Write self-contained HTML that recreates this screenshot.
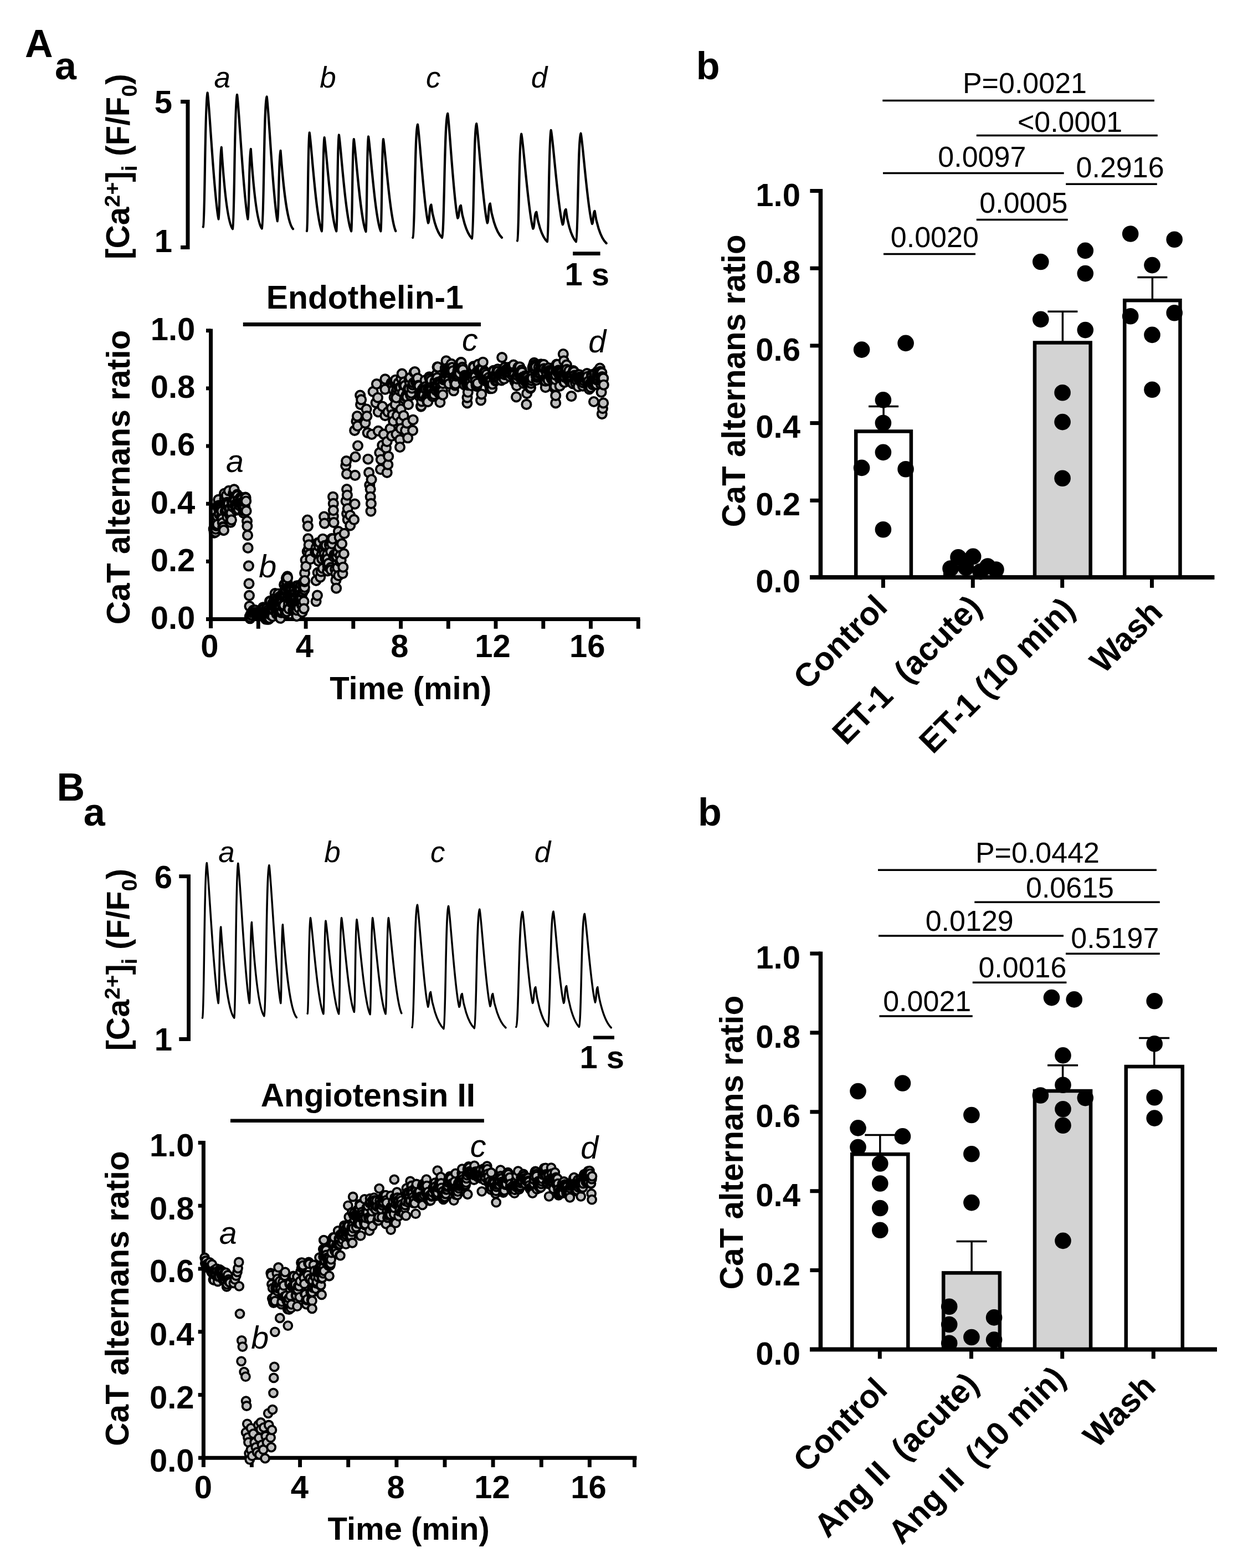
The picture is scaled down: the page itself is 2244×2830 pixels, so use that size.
<!DOCTYPE html>
<html lang="en"><head><meta charset="utf-8"><title>Figure</title>
<style>
html,body{margin:0;padding:0;background:#fff}
body{width:2244px;height:2830px;overflow:hidden}
svg{display:block}
text{white-space:pre}
</style></head>
<body>
<svg width="2244" height="2830" viewBox="0 0 2244 2830">
<rect width="2244" height="2830" fill="#fff"/>
<g fill="none" stroke="#000">
<path d="M366.8 409.5C370.1 404.7 369.9 174.8 374.6 167.5C377.6 178.9 386.6 361.3 394.6 395.5C396.8 392.9 396.7 269.7 399.8 265.8C401.8 295.3 407.9 398.5 420 413.2C423.4 408.4 423.2 178.2 428 170.9C430.9 182.1 439.7 361.8 447.5 395.5C449.7 393 449.6 272.7 452.8 268.9C454.8 297.6 460.8 398.2 472.8 412.5C476.5 407.8 476.3 181.6 481.6 174.5C484.5 185.7 493.2 365.5 500.9 399.2C503.3 396.7 503.1 275.7 506.5 271.9C508.8 300.2 515.5 399.1 529 413.2" stroke-width="4.2" stroke-linejoin="round" stroke-linecap="round"/>
<path d="M554 417C556 413.5 555.9 244.7 558.7 239.4C561.6 251.8 570.2 392.4 580.9 417.3C582.9 413.9 582.8 253.3 585.6 248.2C588.4 260 596.9 393.7 607.3 417.3C609.2 413.9 609.1 248.7 611.9 243.5C614.8 255.7 623.5 393 634.2 417.3C636.1 414 636 256.1 638.8 251.1C641.6 262.8 650.1 394.7 660.5 418C662.4 414.6 662.3 251.6 665.1 246.5C668 258.4 676.7 393.4 687.4 417.3C689.3 414 689.2 256.1 692 251.1C694.9 262.7 703.6 393.8 714.3 417" stroke-width="4.2" stroke-linejoin="round" stroke-linecap="round"/>
<path d="M745.3 428.9C749 424.8 748.8 230.8 754 224.7C756.9 233.6 765.4 375.9 773 402.5C775.3 401.9 775.2 370.4 778.4 369.4C780.4 387.3 787.2 418.2 798 428.9C802.3 424.4 802.1 211.6 808.2 204.9C810.9 214.3 819.1 365.5 826.3 393.8C828.7 393.4 828.6 371.6 832 370.9C834 388.8 841 419.7 852 430.4C855.4 426.3 855.3 229.4 860.2 223.2C863.1 232.2 872 375.6 879.8 402.5C881.9 401.8 881.8 368.4 884.8 367.4C886.9 385.9 894.3 417.9 906 428.9" stroke-width="4.2" stroke-linejoin="round" stroke-linecap="round"/>
<path d="M934 434.5C937 430.7 936.9 247.5 941.2 241.7C944.4 250.2 953.9 387.2 962.3 412.8C964.9 412.2 964.7 383.5 968.4 382.6C970.4 398.7 977.2 426.6 988 436.2C990.8 432.2 990.7 240.9 994.7 234.9C997.9 243.4 1007.4 379.9 1015.8 405.5C1018.2 405 1018.1 378.7 1021.6 377.9C1023.4 395.4 1029.9 425.7 1040 436.2C1043.6 432.3 1043.4 246.7 1048.5 240.8C1051.6 249 1060.8 379.6 1069 404.1C1071 403.7 1070.9 381.6 1073.7 380.9C1075.8 398.4 1083.2 428.6 1094.7 439.1" stroke-width="4.2" stroke-linejoin="round" stroke-linecap="round"/>
<path d="M365.5 1837.2C368.8 1831.6 368.6 1566 373.3 1557.6C376.4 1570.2 385.8 1772.6 394.2 1810.6C396.1 1807.8 396 1677.1 398.7 1673C401.1 1705.8 408.3 1820.8 422.8 1837.2C425.7 1831.6 425.6 1566.7 429.8 1558.4C432.9 1571 442.1 1772.7 450.3 1810.6C452 1807.7 451.9 1669 454.4 1664.6C456.6 1698.4 463.4 1816.9 476.9 1833.8C480.7 1828.3 480.5 1569.7 485.9 1561.6C489 1574 498.4 1773.2 506.8 1810.6C508.3 1807.7 508.2 1673.1 510.4 1668.9C512.9 1702.4 520.4 1819.6 535.4 1836.4" stroke-width="3.5" stroke-linejoin="round" stroke-linecap="round"/>
<path d="M555.2 1829.3C557.4 1825.8 557.3 1661.9 560.5 1656.7C563.5 1668.8 572.7 1805.7 583.9 1830C585.6 1826.6 585.5 1667 588 1662C591.1 1673.7 600.3 1806.5 611.6 1830C613.7 1826.5 613.6 1661.9 616.6 1656.7C619.6 1668.6 628.5 1802.7 639.4 1826.5C641.4 1823.1 641.3 1664.7 644.1 1659.7C647.2 1671.7 656.6 1806.8 668.1 1830.8C670 1827.3 669.9 1661.9 672.7 1656.7C675.7 1668.8 684.9 1805.7 696.1 1830C698.3 1826.5 698.2 1661.9 701.4 1656.7C704.4 1668.7 713.6 1804.7 724.8 1828.8" stroke-width="3.5" stroke-linejoin="round" stroke-linecap="round"/>
<path d="M744 1854.2C748 1849.8 747.8 1639.8 753.5 1633.2C756.4 1642.4 765.1 1789.7 772.8 1817.4C774.7 1816.8 774.6 1791.2 777.4 1790.4C779.8 1810.3 788 1844.8 800.9 1856.8C804.6 1852.3 804.4 1641.9 809.6 1635.3C812.5 1644.4 821.2 1790.1 829 1817.4C831.2 1816.9 831.1 1794.3 834.2 1793.6C836.4 1812.2 844.1 1844.6 856.3 1855.8C860.3 1851.5 860.1 1647.6 865.8 1641.2C868.7 1649.9 877.3 1790 885 1816.3C886.9 1815.8 886.8 1794.3 889.6 1793.6C891.9 1811.9 900.1 1843.8 913 1854.8" stroke-width="3.5" stroke-linejoin="round" stroke-linecap="round"/>
<path d="M931.8 1853.5C936.6 1849.3 936.4 1651.8 943.3 1645.6C946 1653.8 954.3 1785.7 961.6 1810.4C963.8 1809.8 963.7 1782.4 966.8 1781.6C969 1802.8 976.9 1839.7 989.3 1852.5C993.4 1848.3 993.2 1651.3 999 1645.1C1001.8 1653.3 1010.2 1785.6 1017.7 1810.4C1019.8 1809.8 1019.7 1780.5 1022.6 1779.6C1024.9 1801.7 1032.9 1840.2 1045.4 1853.5C1049.6 1849.4 1049.4 1655.4 1055.3 1649.3C1058.2 1657.3 1066.9 1785.3 1074.6 1809.3C1076.4 1808.7 1076.3 1782.4 1078.8 1781.6C1081.2 1803.5 1089.8 1841.6 1103.3 1854.8" stroke-width="3.5" stroke-linejoin="round" stroke-linecap="round"/>
</g>
<g fill="none" stroke="#000" stroke-linecap="butt" stroke-linejoin="miter">
<path d="M326.1 183.5H339V446.4H326.1" stroke-width="7"/>
<path d="M323.3 1581.6H340.6V1875.5H323.3" stroke-width="6.8"/>
<path d="M1034.2 457.7L1083.6 457.7" stroke-width="6.7"/>
<path d="M438.8 585.4L868 585.4" stroke-width="7"/>
<path d="M1071 1872.6L1109 1872.6" stroke-width="6.3"/>
<path d="M416 2022.8L873.9 2022.8" stroke-width="6.5"/>
<path d="M380.6 593.4V1134" stroke-width="7"/>
<path d="M372 1117.5H1155.6" stroke-width="7"/>
<path d="M372 596.7H380.6" stroke-width="6.9"/>
<path d="M372 700.9H380.6" stroke-width="6.9"/>
<path d="M372 805H380.6" stroke-width="6.9"/>
<path d="M372 909.2H380.6" stroke-width="6.9"/>
<path d="M372 1013.3H380.6" stroke-width="6.9"/>
<path d="M466.3 1117.5V1134.8" stroke-width="6.9"/>
<path d="M552.1 1117.5V1134.8" stroke-width="6.9"/>
<path d="M637.8 1117.5V1134.8" stroke-width="6.9"/>
<path d="M723.6 1117.5V1134.8" stroke-width="6.9"/>
<path d="M809.3 1117.5V1134.8" stroke-width="6.9"/>
<path d="M895 1117.5V1134.8" stroke-width="6.9"/>
<path d="M980.8 1117.5V1134.8" stroke-width="6.9"/>
<path d="M1066.5 1117.5V1134.8" stroke-width="6.9"/>
<path d="M1152.3 1117.5V1134.8" stroke-width="6.9"/>
<path d="M367.4 2059.1V2648" stroke-width="7"/>
<path d="M358 2631.3H1149.5" stroke-width="7"/>
<path d="M357.7 2062.4H367.4" stroke-width="6.9"/>
<path d="M357.7 2176.2H367.4" stroke-width="6.9"/>
<path d="M357.7 2290H367.4" stroke-width="6.9"/>
<path d="M357.7 2403.7H367.4" stroke-width="6.9"/>
<path d="M357.7 2517.5H367.4" stroke-width="6.9"/>
<path d="M454.4 2631.3V2648.1" stroke-width="6.9"/>
<path d="M541.6 2631.3V2648.1" stroke-width="6.9"/>
<path d="M628.7 2631.3V2648.1" stroke-width="6.9"/>
<path d="M715.9 2631.3V2648.1" stroke-width="6.9"/>
<path d="M803 2631.3V2648.1" stroke-width="6.9"/>
<path d="M890.1 2631.3V2648.1" stroke-width="6.9"/>
<path d="M977.3 2631.3V2648.1" stroke-width="6.9"/>
<path d="M1064.4 2631.3V2648.1" stroke-width="6.9"/>
<path d="M1145.5 2631.3V2648.1" stroke-width="6.9"/>
<path d="M1481.4 341V1045.6" stroke-width="7.5"/>
<path d="M1462 1041.9H2192.3" stroke-width="7.5"/>
<path d="M1462.4 344.5H1481.4" stroke-width="7"/>
<path d="M1462.4 484.2H1481.4" stroke-width="7"/>
<path d="M1462.4 623.9H1481.4" stroke-width="7"/>
<path d="M1462.4 763.6H1481.4" stroke-width="7"/>
<path d="M1462.4 903.3H1481.4" stroke-width="7"/>
<path d="M1594.4 1041.9V1060.9" stroke-width="7"/>
<path d="M1756.3 1041.9V1060.9" stroke-width="7"/>
<path d="M1917.7 1041.9V1060.9" stroke-width="7"/>
<path d="M2079.5 1041.9V1060.9" stroke-width="7"/>
<path d="M1481.4 1717.5V2439" stroke-width="7.5"/>
<path d="M1462 2435.4H2197" stroke-width="7.5"/>
<path d="M1462.4 1721H1481.4" stroke-width="7"/>
<path d="M1462.4 1863.9H1481.4" stroke-width="7"/>
<path d="M1462.4 2006.8H1481.4" stroke-width="7"/>
<path d="M1462.4 2149.7H1481.4" stroke-width="7"/>
<path d="M1462.4 2292.6H1481.4" stroke-width="7"/>
<path d="M1588.3 2435.4V2452.4" stroke-width="7"/>
<path d="M1753.5 2435.4V2452.4" stroke-width="7"/>
<path d="M1917.7 2435.4V2452.4" stroke-width="7"/>
<path d="M2082.3 2435.4V2452.4" stroke-width="7"/>
</g>
<rect x="1545.2" y="778.5" width="99.7" height="263.5" fill="#fff" stroke="#000" stroke-width="6.5"/>
<path d="M1595.1 778.5V733.6M1568.1 733.6H1622.1" fill="none" stroke="#000" stroke-width="3.5"/>
<rect x="1706.2" y="1027.2" width="100.5" height="14.7" fill="#d3d3d3" stroke="#000" stroke-width="6.5"/>
<rect x="1868" y="618.5" width="100.7" height="423.5" fill="#d3d3d3" stroke="#000" stroke-width="6.5"/>
<path d="M1918.4 618.5V562.3M1891.4 562.3H1945.4" fill="none" stroke="#000" stroke-width="3.5"/>
<rect x="2030.3" y="542.2" width="100.2" height="499.7" fill="#fff" stroke="#000" stroke-width="6.5"/>
<path d="M2080.4 542.2V500.6M2053.4 500.6H2107.4" fill="none" stroke="#000" stroke-width="3.5"/>
<path d="M1462 1041.9H2192.3" fill="none" stroke="#000" stroke-width="7.5"/>
<g fill="#000">
<circle cx="1555.6" cy="631.1" r="14.8"/><circle cx="1635.1" cy="619.4" r="14.8"/><circle cx="1594.4" cy="721.9" r="14.8"/><circle cx="1594.4" cy="763.5" r="14.8"/><circle cx="1594.4" cy="816.4" r="14.8"/><circle cx="1555.6" cy="844.4" r="14.8"/><circle cx="1635.1" cy="846.8" r="14.8"/><circle cx="1594.4" cy="955.8" r="14.8"/><circle cx="1730" cy="1005.8" r="14.8"/><circle cx="1756.7" cy="1004.4" r="14.8"/><circle cx="1716" cy="1026" r="14.8"/><circle cx="1744" cy="1024.6" r="14.8"/><circle cx="1783" cy="1022" r="14.8"/><circle cx="1798" cy="1028" r="14.8"/><circle cx="1770" cy="1031.6" r="14.8"/><circle cx="1878.8" cy="472.5" r="14.8"/><circle cx="1959.3" cy="452.4" r="14.8"/><circle cx="1959.3" cy="493.6" r="14.8"/><circle cx="1878.8" cy="576.4" r="14.8"/><circle cx="1959.3" cy="595.6" r="14.8"/><circle cx="1918.1" cy="708.8" r="14.8"/><circle cx="1918.1" cy="761.6" r="14.8"/><circle cx="1918.1" cy="863.2" r="14.8"/><circle cx="2040.7" cy="422" r="14.8"/><circle cx="2120.2" cy="432.3" r="14.8"/><circle cx="2080" cy="478.6" r="14.8"/><circle cx="2040.7" cy="570.8" r="14.8"/><circle cx="2120.2" cy="564.7" r="14.8"/><circle cx="2080" cy="604.4" r="14.8"/><circle cx="2080" cy="703.2" r="14.8"/>
</g>
<g fill="none" stroke="#000" stroke-width="3.5">
<path d="M1593.3 181.4H2083.9"/>
<path d="M1762.8 244.6H2089.8"/>
<path d="M1594 312.6H1920.7"/>
<path d="M1924.2 332.3H2088.8"/>
<path d="M1762.8 396.5H1927.7"/>
<path d="M1595 458.6H1761"/>
</g>
<rect x="1538.2" y="2083.2" width="101.1" height="352.2" fill="#fff" stroke="#000" stroke-width="6.5"/>
<path d="M1588.8 2083.2V2048.5M1561.3 2048.5H1616.3" fill="none" stroke="#000" stroke-width="3.5"/>
<rect x="1703.2" y="2297.4" width="101.7" height="138" fill="#d3d3d3" stroke="#000" stroke-width="6.5"/>
<path d="M1754.1 2297.4V2240.4M1726.6 2240.4H1781.6" fill="none" stroke="#000" stroke-width="3.5"/>
<rect x="1868" y="1969" width="101.1" height="466.5" fill="#d3d3d3" stroke="#000" stroke-width="6.5"/>
<path d="M1918.6 1969V1922.7M1891.1 1922.7H1946.1" fill="none" stroke="#000" stroke-width="3.5"/>
<rect x="2032.8" y="1925" width="102" height="510.4" fill="#fff" stroke="#000" stroke-width="6.5"/>
<path d="M2083.8 1925V1873.6M2056.2 1873.6H2111.2" fill="none" stroke="#000" stroke-width="3.5"/>
<path d="M1462 2435.4H2197" fill="none" stroke="#000" stroke-width="7.5"/>
<g fill="#000">
<circle cx="1549" cy="1969.5" r="14.8"/><circle cx="1629.5" cy="1955" r="14.8"/><circle cx="1549" cy="2035.9" r="14.8"/><circle cx="1629.5" cy="2050.9" r="14.8"/><circle cx="1549" cy="2070.5" r="14.8"/><circle cx="1588.8" cy="2100" r="14.8"/><circle cx="1588.8" cy="2136" r="14.8"/><circle cx="1588.8" cy="2180.5" r="14.8"/><circle cx="1588.8" cy="2220.2" r="14.8"/><circle cx="1753.9" cy="2012.5" r="14.8"/><circle cx="1753.9" cy="2082.7" r="14.8"/><circle cx="1753.9" cy="2170.6" r="14.8"/><circle cx="1713.7" cy="2358.2" r="14.8"/><circle cx="1713.7" cy="2390.5" r="14.8"/><circle cx="1794.6" cy="2377.9" r="14.8"/><circle cx="1753.9" cy="2413.5" r="14.8"/><circle cx="1713.7" cy="2424.2" r="14.8"/><circle cx="1794.6" cy="2418.1" r="14.8"/><circle cx="1898.5" cy="1800.6" r="14.8"/><circle cx="1939.2" cy="1803.9" r="14.8"/><circle cx="1919" cy="1904.9" r="14.8"/><circle cx="1919" cy="1958.2" r="14.8"/><circle cx="1878.4" cy="1977" r="14.8"/><circle cx="1959.3" cy="1981.6" r="14.8"/><circle cx="1919" cy="2001.8" r="14.8"/><circle cx="1919" cy="2031.2" r="14.8"/><circle cx="1919" cy="2239.4" r="14.8"/><circle cx="2084.2" cy="1806.7" r="14.8"/><circle cx="2084.2" cy="1883.9" r="14.8"/><circle cx="2084.2" cy="1980.7" r="14.8"/><circle cx="2084.2" cy="2018.1" r="14.8"/>
</g>
<g fill="none" stroke="#000" stroke-width="3.5">
<path d="M1585 1570.3H2088"/>
<path d="M1759.3 1628.2H2093.8"/>
<path d="M1586 1689H1920"/>
<path d="M1924 1721.2H2093.8"/>
<path d="M1755.8 1773.2H1925.4"/>
<path d="M1587.4 1834H1755.8"/>
</g>
<g fill="#c0c0c0" stroke="#000" stroke-width="3.9">
<circle cx="385.7" cy="954.6" r="8.1"/><circle cx="386.3" cy="957" r="8.1"/><circle cx="386.8" cy="961.6" r="8.1"/><circle cx="387.4" cy="952.8" r="8.1"/><circle cx="387.9" cy="953.2" r="8.1"/><circle cx="388.4" cy="951.6" r="8.1"/><circle cx="389" cy="960.3" r="8.1"/><circle cx="389.5" cy="954.9" r="8.1"/><circle cx="390" cy="948.6" r="8.1"/><circle cx="390.6" cy="949" r="8.1"/><circle cx="391.1" cy="946.5" r="8.1"/><circle cx="391.6" cy="939.2" r="8.1"/><circle cx="392.2" cy="932" r="8.1"/><circle cx="392.7" cy="946.5" r="8.1"/><circle cx="393.2" cy="915.2" r="8.1"/><circle cx="393.8" cy="911.6" r="8.1"/><circle cx="394.3" cy="901.8" r="8.1"/><circle cx="394.9" cy="912.4" r="8.1"/><circle cx="395.4" cy="921.7" r="8.1"/><circle cx="395.9" cy="928.3" r="8.1"/><circle cx="396.5" cy="915.7" r="8.1"/><circle cx="397" cy="918.2" r="8.1"/><circle cx="397.5" cy="914.6" r="8.1"/><circle cx="398.1" cy="915.8" r="8.1"/><circle cx="398.6" cy="919.3" r="8.1"/><circle cx="399.1" cy="919.2" r="8.1"/><circle cx="399.7" cy="934" r="8.1"/><circle cx="400.2" cy="930.2" r="8.1"/><circle cx="400.7" cy="922.3" r="8.1"/><circle cx="401.3" cy="936.2" r="8.1"/><circle cx="401.8" cy="943.6" r="8.1"/><circle cx="402.4" cy="950.8" r="8.1"/><circle cx="402.9" cy="952" r="8.1"/><circle cx="403.4" cy="957.2" r="8.1"/><circle cx="404" cy="957" r="8.1"/><circle cx="404.5" cy="908" r="8.1"/><circle cx="405" cy="890.9" r="8.1"/><circle cx="405.6" cy="900.1" r="8.1"/><circle cx="406.1" cy="909.1" r="8.1"/><circle cx="406.6" cy="923" r="8.1"/><circle cx="407.2" cy="922" r="8.1"/><circle cx="407.7" cy="912.4" r="8.1"/><circle cx="408.3" cy="896.5" r="8.1"/><circle cx="408.8" cy="894.2" r="8.1"/><circle cx="409.3" cy="920" r="8.1"/><circle cx="409.9" cy="906.7" r="8.1"/><circle cx="410.4" cy="933.2" r="8.1"/><circle cx="410.9" cy="910.2" r="8.1"/><circle cx="411.5" cy="912.4" r="8.1"/><circle cx="412" cy="914.5" r="8.1"/><circle cx="412.5" cy="909" r="8.1"/><circle cx="413.1" cy="885.8" r="8.1"/><circle cx="413.6" cy="927" r="8.1"/><circle cx="414.1" cy="918.3" r="8.1"/><circle cx="414.7" cy="921.8" r="8.1"/><circle cx="415.2" cy="917.6" r="8.1"/><circle cx="415.8" cy="931.6" r="8.1"/><circle cx="416.3" cy="942.8" r="8.1"/><circle cx="416.8" cy="936.5" r="8.1"/><circle cx="417.4" cy="926" r="8.1"/><circle cx="417.9" cy="938.4" r="8.1"/><circle cx="418.4" cy="905.2" r="8.1"/><circle cx="419" cy="906.9" r="8.1"/><circle cx="419.5" cy="914.5" r="8.1"/><circle cx="420" cy="914.1" r="8.1"/><circle cx="420.6" cy="908.6" r="8.1"/><circle cx="421.1" cy="891" r="8.1"/><circle cx="421.6" cy="889.5" r="8.1"/><circle cx="422.2" cy="889.5" r="8.1"/><circle cx="422.7" cy="883.4" r="8.1"/><circle cx="423.3" cy="897.4" r="8.1"/><circle cx="423.8" cy="899.1" r="8.1"/><circle cx="424.3" cy="903.1" r="8.1"/><circle cx="424.9" cy="910.5" r="8.1"/><circle cx="425.4" cy="913.6" r="8.1"/><circle cx="425.9" cy="916.6" r="8.1"/><circle cx="426.5" cy="920.6" r="8.1"/><circle cx="427" cy="915" r="8.1"/><circle cx="427.5" cy="916.7" r="8.1"/><circle cx="428.1" cy="892.6" r="8.1"/><circle cx="428.6" cy="894.9" r="8.1"/><circle cx="429.2" cy="905.4" r="8.1"/><circle cx="429.7" cy="902.5" r="8.1"/><circle cx="430.2" cy="907.8" r="8.1"/><circle cx="430.8" cy="919.6" r="8.1"/><circle cx="431.3" cy="908" r="8.1"/><circle cx="431.8" cy="910.2" r="8.1"/><circle cx="432.4" cy="912.3" r="8.1"/><circle cx="432.9" cy="906.8" r="8.1"/><circle cx="433.4" cy="907.7" r="8.1"/><circle cx="434" cy="908.6" r="8.1"/><circle cx="434.5" cy="897.5" r="8.1"/><circle cx="435" cy="903" r="8.1"/><circle cx="435.6" cy="899.8" r="8.1"/><circle cx="436.1" cy="899.7" r="8.1"/><circle cx="436.7" cy="900.8" r="8.1"/><circle cx="437.2" cy="906.8" r="8.1"/><circle cx="437.7" cy="909.4" r="8.1"/><circle cx="438.3" cy="913.7" r="8.1"/><circle cx="438.8" cy="915.6" r="8.1"/><circle cx="439.3" cy="925.6" r="8.1"/><circle cx="439.9" cy="917" r="8.1"/><circle cx="440.4" cy="921.8" r="8.1"/><circle cx="440.9" cy="917.5" r="8.1"/><circle cx="441.5" cy="912.8" r="8.1"/><circle cx="442" cy="914" r="8.1"/><circle cx="442.5" cy="906.1" r="8.1"/><circle cx="443.1" cy="897.5" r="8.1"/><circle cx="443.6" cy="898.7" r="8.1"/><circle cx="444.2" cy="904.5" r="8.1"/><circle cx="444.6" cy="922.2" r="8.1"/><circle cx="446" cy="940.5" r="8.1"/><circle cx="446.4" cy="949.6" r="8.1"/><circle cx="447" cy="966.2" r="8.1"/><circle cx="447.6" cy="988.9" r="8.1"/><circle cx="448.9" cy="1021.4" r="8.1"/><circle cx="449.5" cy="1053.3" r="8.1"/><circle cx="450" cy="1074.8" r="8.1"/><circle cx="450.5" cy="1094.1" r="8.1"/><circle cx="450.9" cy="1112.6" r="8.1"/><circle cx="451.4" cy="1116.3" r="8.1"/><circle cx="451.9" cy="1114.3" r="8.1"/><circle cx="452.5" cy="1109.8" r="8.1"/><circle cx="453" cy="1108" r="8.1"/><circle cx="453.5" cy="1109.7" r="8.1"/><circle cx="454" cy="1110.4" r="8.1"/><circle cx="454.5" cy="1109.9" r="8.1"/><circle cx="455" cy="1105.5" r="8.1"/><circle cx="455.5" cy="1104.8" r="8.1"/><circle cx="456.1" cy="1105" r="8.1"/><circle cx="456.6" cy="1102.7" r="8.1"/><circle cx="457.1" cy="1103.4" r="8.1"/><circle cx="457.6" cy="1101.2" r="8.1"/><circle cx="458.1" cy="1103.2" r="8.1"/><circle cx="458.6" cy="1104.6" r="8.1"/><circle cx="459.1" cy="1103.8" r="8.1"/><circle cx="459.7" cy="1101.7" r="8.1"/><circle cx="460.2" cy="1101.2" r="8.1"/><circle cx="460.7" cy="1101.4" r="8.1"/><circle cx="461.2" cy="1105.5" r="8.1"/><circle cx="461.7" cy="1107.1" r="8.1"/><circle cx="462.2" cy="1108.4" r="8.1"/><circle cx="462.7" cy="1109.4" r="8.1"/><circle cx="463.3" cy="1108.3" r="8.1"/><circle cx="463.8" cy="1109" r="8.1"/><circle cx="464.3" cy="1107.5" r="8.1"/><circle cx="464.8" cy="1107.5" r="8.1"/><circle cx="465.3" cy="1108.2" r="8.1"/><circle cx="465.8" cy="1108" r="8.1"/><circle cx="466.3" cy="1107.3" r="8.1"/><circle cx="466.9" cy="1105.8" r="8.1"/><circle cx="467.4" cy="1107" r="8.1"/><circle cx="467.9" cy="1107.6" r="8.1"/><circle cx="468.4" cy="1110.3" r="8.1"/><circle cx="468.9" cy="1107" r="8.1"/><circle cx="469.4" cy="1104.4" r="8.1"/><circle cx="469.9" cy="1105.2" r="8.1"/><circle cx="470.5" cy="1106.4" r="8.1"/><circle cx="471" cy="1109" r="8.1"/><circle cx="471.5" cy="1108.6" r="8.1"/><circle cx="472" cy="1108.2" r="8.1"/><circle cx="472.5" cy="1104" r="8.1"/><circle cx="473" cy="1103.9" r="8.1"/><circle cx="473.5" cy="1105.9" r="8.1"/><circle cx="474.1" cy="1110.9" r="8.1"/><circle cx="474.6" cy="1107.9" r="8.1"/><circle cx="474.9" cy="1096.2" r="8.1"/><circle cx="475.1" cy="1107.5" r="8.1"/><circle cx="475.4" cy="1103.6" r="8.1"/><circle cx="475.6" cy="1110.8" r="8.1"/><circle cx="475.9" cy="1105.2" r="8.1"/><circle cx="476.1" cy="1110.2" r="8.1"/><circle cx="476.3" cy="1098.9" r="8.1"/><circle cx="476.6" cy="1113.2" r="8.1"/><circle cx="476.8" cy="1103.5" r="8.1"/><circle cx="477.3" cy="1105.3" r="8.1"/><circle cx="477.7" cy="1112.3" r="8.1"/><circle cx="478.2" cy="1106.3" r="8.1"/><circle cx="478.7" cy="1107.4" r="8.1"/><circle cx="479.2" cy="1110.1" r="8.1"/><circle cx="479.2" cy="1102.8" r="8.1"/><circle cx="479.6" cy="1117.5" r="8.1"/><circle cx="480.1" cy="1110.3" r="8.1"/><circle cx="480.5" cy="1104.1" r="8.1"/><circle cx="480.6" cy="1112.1" r="8.1"/><circle cx="481" cy="1106.7" r="8.1"/><circle cx="481.5" cy="1115.7" r="8.1"/><circle cx="481.8" cy="1097.7" r="8.1"/><circle cx="482" cy="1117.5" r="8.1"/><circle cx="482.5" cy="1117.2" r="8.1"/><circle cx="482.9" cy="1117.5" r="8.1"/><circle cx="483.1" cy="1115.5" r="8.1"/><circle cx="483.4" cy="1108.2" r="8.1"/><circle cx="483.9" cy="1107.7" r="8.1"/><circle cx="484.3" cy="1100.7" r="8.1"/><circle cx="484.3" cy="1107" r="8.1"/><circle cx="484.8" cy="1117.5" r="8.1"/><circle cx="485.3" cy="1117.5" r="8.1"/><circle cx="485.6" cy="1104" r="8.1"/><circle cx="485.8" cy="1105.4" r="8.1"/><circle cx="486.2" cy="1110.6" r="8.1"/><circle cx="486.7" cy="1115.8" r="8.1"/><circle cx="486.9" cy="1085.1" r="8.1"/><circle cx="487.2" cy="1104.2" r="8.1"/><circle cx="487.6" cy="1108.6" r="8.1"/><circle cx="488.1" cy="1109.3" r="8.1"/><circle cx="488.2" cy="1085" r="8.1"/><circle cx="488.6" cy="1104.4" r="8.1"/><circle cx="489.1" cy="1104.5" r="8.1"/><circle cx="489.5" cy="1107.7" r="8.1"/><circle cx="489.5" cy="1102" r="8.1"/><circle cx="490" cy="1101.7" r="8.1"/><circle cx="490.5" cy="1106.6" r="8.1"/><circle cx="490.8" cy="1099.6" r="8.1"/><circle cx="490.9" cy="1108.8" r="8.1"/><circle cx="491.4" cy="1103.8" r="8.1"/><circle cx="491.9" cy="1089.2" r="8.1"/><circle cx="492.1" cy="1112.5" r="8.1"/><circle cx="492.4" cy="1100.4" r="8.1"/><circle cx="492.8" cy="1098.3" r="8.1"/><circle cx="493.3" cy="1091.5" r="8.1"/><circle cx="493.3" cy="1100" r="8.1"/><circle cx="493.8" cy="1094.2" r="8.1"/><circle cx="494.2" cy="1086.8" r="8.1"/><circle cx="494.6" cy="1083.5" r="8.1"/><circle cx="494.7" cy="1087" r="8.1"/><circle cx="495.2" cy="1090" r="8.1"/><circle cx="495.7" cy="1095" r="8.1"/><circle cx="495.9" cy="1078.8" r="8.1"/><circle cx="496.1" cy="1085.5" r="8.1"/><circle cx="496.6" cy="1071" r="8.1"/><circle cx="497.1" cy="1079.5" r="8.1"/><circle cx="497.2" cy="1096.4" r="8.1"/><circle cx="497.5" cy="1089" r="8.1"/><circle cx="498" cy="1083.5" r="8.1"/><circle cx="498.5" cy="1103" r="8.1"/><circle cx="498.5" cy="1089.4" r="8.1"/><circle cx="499" cy="1092.2" r="8.1"/><circle cx="499.4" cy="1096.4" r="8.1"/><circle cx="499.8" cy="1108.5" r="8.1"/><circle cx="499.9" cy="1108.7" r="8.1"/><circle cx="500.4" cy="1098.6" r="8.1"/><circle cx="500.9" cy="1082.1" r="8.1"/><circle cx="501.1" cy="1087.7" r="8.1"/><circle cx="501.3" cy="1092.3" r="8.1"/><circle cx="501.8" cy="1100" r="8.1"/><circle cx="502.3" cy="1090.5" r="8.1"/><circle cx="502.4" cy="1071.7" r="8.1"/><circle cx="502.7" cy="1092.1" r="8.1"/><circle cx="503.2" cy="1087.3" r="8.1"/><circle cx="503.6" cy="1110.9" r="8.1"/><circle cx="503.7" cy="1103.7" r="8.1"/><circle cx="504.2" cy="1100.5" r="8.1"/><circle cx="504.6" cy="1090.4" r="8.1"/><circle cx="504.9" cy="1076.9" r="8.1"/><circle cx="505.1" cy="1101" r="8.1"/><circle cx="505.6" cy="1092" r="8.1"/><circle cx="506" cy="1093.4" r="8.1"/><circle cx="506.2" cy="1115.8" r="8.1"/><circle cx="506.5" cy="1087.5" r="8.1"/><circle cx="507" cy="1078.8" r="8.1"/><circle cx="507.5" cy="1080.8" r="8.1"/><circle cx="507.5" cy="1105.7" r="8.1"/><circle cx="507.9" cy="1075.4" r="8.1"/><circle cx="508.4" cy="1087.6" r="8.1"/><circle cx="508.8" cy="1103" r="8.1"/><circle cx="508.9" cy="1080.2" r="8.1"/><circle cx="509.3" cy="1088.4" r="8.1"/><circle cx="509.8" cy="1086.7" r="8.1"/><circle cx="510.1" cy="1075.4" r="8.1"/><circle cx="510.3" cy="1071.8" r="8.1"/><circle cx="510.8" cy="1095.5" r="8.1"/><circle cx="511.2" cy="1095.9" r="8.1"/><circle cx="511.4" cy="1095.6" r="8.1"/><circle cx="511.7" cy="1091.5" r="8.1"/><circle cx="512.2" cy="1070.2" r="8.1"/><circle cx="512.6" cy="1092.5" r="8.1"/><circle cx="512.6" cy="1067.8" r="8.1"/><circle cx="513.1" cy="1055.2" r="8.1"/><circle cx="513.6" cy="1055.4" r="8.1"/><circle cx="513.9" cy="1074.8" r="8.1"/><circle cx="514.1" cy="1066.8" r="8.1"/><circle cx="514.5" cy="1072" r="8.1"/><circle cx="515" cy="1072" r="8.1"/><circle cx="515.2" cy="1106.6" r="8.1"/><circle cx="515.5" cy="1074.2" r="8.1"/><circle cx="515.9" cy="1066.8" r="8.1"/><circle cx="516.4" cy="1059.6" r="8.1"/><circle cx="516.5" cy="1064.5" r="8.1"/><circle cx="516.9" cy="1043.4" r="8.1"/><circle cx="517.4" cy="1045.8" r="8.1"/><circle cx="517.8" cy="1104" r="8.1"/><circle cx="517.8" cy="1050.3" r="8.1"/><circle cx="518.3" cy="1049.3" r="8.1"/><circle cx="518.8" cy="1040.4" r="8.1"/><circle cx="519.1" cy="1077.8" r="8.1"/><circle cx="519.2" cy="1042.8" r="8.1"/><circle cx="519.7" cy="1062.6" r="8.1"/><circle cx="520.2" cy="1060.1" r="8.1"/><circle cx="520.4" cy="1095.4" r="8.1"/><circle cx="520.7" cy="1073.3" r="8.1"/><circle cx="521.1" cy="1088.9" r="8.1"/><circle cx="521.6" cy="1070.8" r="8.1"/><circle cx="521.6" cy="1099" r="8.1"/><circle cx="522.1" cy="1075.5" r="8.1"/><circle cx="522.5" cy="1071.6" r="8.1"/><circle cx="522.9" cy="1076.8" r="8.1"/><circle cx="523" cy="1060.9" r="8.1"/><circle cx="523.5" cy="1062.9" r="8.1"/><circle cx="524" cy="1063.8" r="8.1"/><circle cx="524.2" cy="1083.2" r="8.1"/><circle cx="524.4" cy="1082.2" r="8.1"/><circle cx="524.9" cy="1077.8" r="8.1"/><circle cx="525.4" cy="1073.5" r="8.1"/><circle cx="525.5" cy="1087.3" r="8.1"/><circle cx="525.8" cy="1066.2" r="8.1"/><circle cx="526.3" cy="1077.1" r="8.1"/><circle cx="526.8" cy="1084.9" r="8.1"/><circle cx="526.8" cy="1063.2" r="8.1"/><circle cx="527.3" cy="1079.9" r="8.1"/><circle cx="527.7" cy="1080.8" r="8.1"/><circle cx="528.1" cy="1077.3" r="8.1"/><circle cx="528.2" cy="1079.2" r="8.1"/><circle cx="528.7" cy="1089" r="8.1"/><circle cx="529.1" cy="1080.2" r="8.1"/><circle cx="529.4" cy="1101.8" r="8.1"/><circle cx="529.6" cy="1101.6" r="8.1"/><circle cx="530.1" cy="1075.2" r="8.1"/><circle cx="530.6" cy="1062.3" r="8.1"/><circle cx="530.6" cy="1098.9" r="8.1"/><circle cx="531" cy="1065.8" r="8.1"/><circle cx="531.5" cy="1073.3" r="8.1"/><circle cx="531.9" cy="1071" r="8.1"/><circle cx="532" cy="1088.2" r="8.1"/><circle cx="532.4" cy="1081.3" r="8.1"/><circle cx="532.9" cy="1071.3" r="8.1"/><circle cx="533.2" cy="1070.7" r="8.1"/><circle cx="533.4" cy="1077.8" r="8.1"/><circle cx="533.9" cy="1097.6" r="8.1"/><circle cx="534.3" cy="1102.6" r="8.1"/><circle cx="534.5" cy="1077.9" r="8.1"/><circle cx="534.8" cy="1089.7" r="8.1"/><circle cx="535.3" cy="1111.9" r="8.1"/><circle cx="535.7" cy="1112" r="8.1"/><circle cx="535.8" cy="1057.2" r="8.1"/><circle cx="536.2" cy="1101.3" r="8.1"/><circle cx="536.7" cy="1091.4" r="8.1"/><circle cx="537.1" cy="1072.8" r="8.1"/><circle cx="537.2" cy="1071.6" r="8.1"/><circle cx="537.6" cy="1066.1" r="8.1"/><circle cx="538.1" cy="1082.3" r="8.1"/><circle cx="538.4" cy="1057.2" r="8.1"/><circle cx="538.6" cy="1082.7" r="8.1"/><circle cx="539" cy="1088.8" r="8.1"/><circle cx="539.5" cy="1061.9" r="8.1"/><circle cx="539.6" cy="1097.4" r="8.1"/><circle cx="540" cy="1082.7" r="8.1"/><circle cx="540.5" cy="1068.3" r="8.1"/><circle cx="540.9" cy="1064.9" r="8.1"/><circle cx="540.9" cy="1072" r="8.1"/><circle cx="541.4" cy="1070.7" r="8.1"/><circle cx="541.9" cy="1081" r="8.1"/><circle cx="542.2" cy="1060.6" r="8.1"/><circle cx="542.3" cy="1062.7" r="8.1"/><circle cx="542.8" cy="1076.8" r="8.1"/><circle cx="543.3" cy="1079.5" r="8.1"/><circle cx="543.5" cy="1055" r="8.1"/><circle cx="543.8" cy="1075.5" r="8.1"/><circle cx="544.2" cy="1088.3" r="8.1"/><circle cx="544.7" cy="1081.4" r="8.1"/><circle cx="544.8" cy="1092.3" r="8.1"/><circle cx="545.2" cy="1079.3" r="8.1"/><circle cx="545.6" cy="1105" r="8.1"/><circle cx="545.6" cy="1091" r="8.1"/><circle cx="546.1" cy="1092.4" r="8.1"/><circle cx="546.1" cy="1069.8" r="8.1"/><circle cx="546.6" cy="1068.1" r="8.1"/><circle cx="547.1" cy="1053.1" r="8.1"/><circle cx="547.4" cy="1054.3" r="8.1"/><circle cx="547.5" cy="1051" r="8.1"/><circle cx="548" cy="1052.2" r="8.1"/><circle cx="548.5" cy="1049.4" r="8.1"/><circle cx="548.6" cy="1064.7" r="8.1"/><circle cx="548.6" cy="1085.3" r="8.1"/><circle cx="548.7" cy="1098.6" r="8.1"/><circle cx="549" cy="1054" r="8.1"/><circle cx="549.4" cy="1064.4" r="8.1"/><circle cx="549.9" cy="1060" r="8.1"/><circle cx="549.9" cy="1049.9" r="8.1"/><circle cx="550.1" cy="1034.3" r="8.1"/><circle cx="550.1" cy="1048" r="8.1"/><circle cx="551.6" cy="1010.8" r="8.1"/><circle cx="552.4" cy="1022.2" r="8.1"/><circle cx="554.7" cy="995.6" r="8.1"/><circle cx="555" cy="938.5" r="8.1"/><circle cx="555.9" cy="949.6" r="8.1"/><circle cx="556.2" cy="972.4" r="8.1"/><circle cx="557" cy="991" r="8.1"/><circle cx="557.7" cy="983.4" r="8.1"/><circle cx="559.2" cy="1000.1" r="8.1"/><circle cx="560.5" cy="1009.2" r="8.1"/><circle cx="569.2" cy="997.1" r="8.1"/><circle cx="570.6" cy="1048" r="8.1"/><circle cx="570.6" cy="1085.3" r="8.1"/><circle cx="570.7" cy="988.3" r="8.1"/><circle cx="572.2" cy="998.9" r="8.1"/><circle cx="572.9" cy="1074.6" r="8.1"/><circle cx="572.9" cy="995.6" r="8.1"/><circle cx="573.7" cy="1033.6" r="8.1"/><circle cx="573.7" cy="979.9" r="8.1"/><circle cx="575.2" cy="1012.6" r="8.1"/><circle cx="576" cy="986.4" r="8.1"/><circle cx="576.7" cy="979" r="8.1"/><circle cx="578.2" cy="1041.6" r="8.1"/><circle cx="579.7" cy="1031.4" r="8.1"/><circle cx="580.5" cy="1001.6" r="8.1"/><circle cx="581.2" cy="1008.9" r="8.1"/><circle cx="582" cy="991" r="8.1"/><circle cx="582.7" cy="1025.8" r="8.1"/><circle cx="582.8" cy="972.7" r="8.1"/><circle cx="584.2" cy="993.5" r="8.1"/><circle cx="585.1" cy="932.5" r="8.1"/><circle cx="585.7" cy="999.8" r="8.1"/><circle cx="585.8" cy="944.6" r="8.1"/><circle cx="585.8" cy="984.9" r="8.1"/><circle cx="587.2" cy="1007.9" r="8.1"/><circle cx="588.7" cy="984.2" r="8.1"/><circle cx="590.2" cy="1004.6" r="8.1"/><circle cx="591.2" cy="1000.1" r="8.1"/><circle cx="591.2" cy="1030.5" r="8.1"/><circle cx="591.2" cy="1009.2" r="8.1"/><circle cx="591.7" cy="1022.3" r="8.1"/><circle cx="591.9" cy="1019.1" r="8.1"/><circle cx="593.2" cy="1016.9" r="8.1"/><circle cx="594.7" cy="982.8" r="8.1"/><circle cx="595.7" cy="986.4" r="8.1"/><circle cx="596.2" cy="978.5" r="8.1"/><circle cx="597.2" cy="995.6" r="8.1"/><circle cx="597.2" cy="1024.4" r="8.1"/><circle cx="597.7" cy="1028.6" r="8.1"/><circle cx="598.8" cy="972" r="8.1"/><circle cx="599.2" cy="981.5" r="8.1"/><circle cx="600.7" cy="972.6" r="8.1"/><circle cx="601.1" cy="896.7" r="8.1"/><circle cx="601.8" cy="908.9" r="8.1"/><circle cx="601.8" cy="931.7" r="8.1"/><circle cx="601.8" cy="921.1" r="8.1"/><circle cx="602.2" cy="1004.6" r="8.1"/><circle cx="602.6" cy="943.1" r="8.1"/><circle cx="603.7" cy="1000.7" r="8.1"/><circle cx="604.9" cy="1001.6" r="8.1"/><circle cx="605.2" cy="1027.6" r="8.1"/><circle cx="606.4" cy="1035.1" r="8.1"/><circle cx="606.4" cy="1047.2" r="8.1"/><circle cx="606.7" cy="1002.8" r="8.1"/><circle cx="607.1" cy="1061.7" r="8.1"/><circle cx="608.2" cy="1004.9" r="8.1"/><circle cx="609.4" cy="1024.4" r="8.1"/><circle cx="609.7" cy="997.1" r="8.1"/><circle cx="610.9" cy="959.1" r="8.1"/><circle cx="611.2" cy="1038.9" r="8.1"/><circle cx="612.5" cy="988" r="8.1"/><circle cx="612.7" cy="969.9" r="8.1"/><circle cx="614" cy="1013.8" r="8.1"/><circle cx="614.2" cy="1002.7" r="8.1"/><circle cx="615.7" cy="1010.8" r="8.1"/><circle cx="617.2" cy="981.3" r="8.1"/><circle cx="618.5" cy="1035.1" r="8.1"/><circle cx="619.3" cy="1023.7" r="8.1"/><circle cx="620.8" cy="999.4" r="8.1"/><circle cx="621.6" cy="962.9" r="8.1"/><circle cx="624.3" cy="840.4" r="8.1"/><circle cx="624.6" cy="904.3" r="8.1"/><circle cx="625.2" cy="832.1" r="8.1"/><circle cx="626" cy="855.4" r="8.1"/><circle cx="626.1" cy="883" r="8.1"/><circle cx="626.1" cy="927.1" r="8.1"/><circle cx="626.9" cy="893.7" r="8.1"/><circle cx="627.7" cy="918" r="8.1"/><circle cx="627.7" cy="937.8" r="8.1"/><circle cx="632.2" cy="948.4" r="8.1"/><circle cx="632.2" cy="930.2" r="8.1"/><circle cx="639.1" cy="937.8" r="8.1"/><circle cx="640.2" cy="776.9" r="8.1"/><circle cx="640.6" cy="909.6" r="8.1"/><circle cx="641" cy="857.9" r="8.1"/><circle cx="641.5" cy="824.5" r="8.1"/><circle cx="643.5" cy="760.2" r="8.1"/><circle cx="644.9" cy="751.1" r="8.1"/><circle cx="645.5" cy="768.9" r="8.1"/><circle cx="646" cy="804.5" r="8.1"/><circle cx="650.2" cy="713.5" r="8.1"/><circle cx="651.1" cy="730.2" r="8.1"/><circle cx="652.2" cy="721.3" r="8.1"/><circle cx="659.4" cy="763.6" r="8.1"/><circle cx="661.6" cy="738.5" r="8.1"/><circle cx="662.4" cy="751.1" r="8.1"/><circle cx="663.6" cy="781.1" r="8.1"/><circle cx="664.4" cy="828.7" r="8.1"/><circle cx="666.1" cy="852.9" r="8.1"/><circle cx="667.3" cy="875.5" r="8.1"/><circle cx="668.7" cy="883" r="8.1"/><circle cx="668.7" cy="896.7" r="8.1"/><circle cx="669.5" cy="922.6" r="8.1"/><circle cx="669.9" cy="908.9" r="8.1"/><circle cx="670.6" cy="865.5" r="8.1"/><circle cx="671.1" cy="784" r="8.1"/><circle cx="673.6" cy="706.8" r="8.1"/><circle cx="678.6" cy="726.8" r="8.1"/><circle cx="679.9" cy="693.1" r="8.1"/><circle cx="682" cy="717.7" r="8.1"/><circle cx="682.8" cy="743.5" r="8.1"/><circle cx="682.8" cy="777.8" r="8.1"/><circle cx="685.3" cy="817" r="8.1"/><circle cx="687" cy="847.1" r="8.1"/><circle cx="687.8" cy="829.5" r="8.1"/><circle cx="690.3" cy="733.5" r="8.1"/><circle cx="690.3" cy="803.7" r="8.1"/><circle cx="692.8" cy="783.6" r="8.1"/><circle cx="695.3" cy="684.3" r="8.1"/><circle cx="695.3" cy="702.6" r="8.1"/><circle cx="695.3" cy="750.2" r="8.1"/><circle cx="697" cy="808.7" r="8.1"/><circle cx="698.7" cy="797" r="8.1"/><circle cx="698.7" cy="852.9" r="8.1"/><circle cx="700.3" cy="838.7" r="8.1"/><circle cx="700.3" cy="743.5" r="8.1"/><circle cx="701.2" cy="823.7" r="8.1"/><circle cx="704.5" cy="773.6" r="8.1"/><circle cx="706.4" cy="691" r="8.1"/><circle cx="707" cy="736.9" r="8.1"/><circle cx="707" cy="787" r="8.1"/><circle cx="707.7" cy="694.1" r="8.1"/><circle cx="708.7" cy="748.6" r="8.1"/><circle cx="709" cy="694.7" r="8.1"/><circle cx="710.3" cy="703.8" r="8.1"/><circle cx="710.3" cy="760.2" r="8.1"/><circle cx="711.6" cy="717" r="8.1"/><circle cx="712.8" cy="692" r="8.1"/><circle cx="713.7" cy="691.8" r="8.1"/><circle cx="713.7" cy="730.2" r="8.1"/><circle cx="714.1" cy="685.7" r="8.1"/><circle cx="715.4" cy="706.8" r="8.1"/><circle cx="715.4" cy="783.6" r="8.1"/><circle cx="715.4" cy="718" r="8.1"/><circle cx="716.7" cy="701.6" r="8.1"/><circle cx="717" cy="750.2" r="8.1"/><circle cx="718" cy="694.9" r="8.1"/><circle cx="719.3" cy="691.2" r="8.1"/><circle cx="720.6" cy="699.9" r="8.1"/><circle cx="721.8" cy="705.5" r="8.1"/><circle cx="722" cy="793.6" r="8.1"/><circle cx="722" cy="807" r="8.1"/><circle cx="723.1" cy="699.5" r="8.1"/><circle cx="723.7" cy="738.5" r="8.1"/><circle cx="723.7" cy="760.2" r="8.1"/><circle cx="723.7" cy="773.6" r="8.1"/><circle cx="724.4" cy="683.1" r="8.1"/><circle cx="725.7" cy="674.6" r="8.1"/><circle cx="727" cy="708.7" r="8.1"/><circle cx="728.3" cy="694.9" r="8.1"/><circle cx="728.7" cy="750.2" r="8.1"/><circle cx="729.6" cy="689.3" r="8.1"/><circle cx="730.4" cy="720.2" r="8.1"/><circle cx="730.8" cy="696.1" r="8.1"/><circle cx="732.1" cy="776.9" r="8.1"/><circle cx="732.1" cy="716" r="8.1"/><circle cx="733.4" cy="713.4" r="8.1"/><circle cx="734.6" cy="763.6" r="8.1"/><circle cx="734.7" cy="716.5" r="8.1"/><circle cx="736" cy="704.3" r="8.1"/><circle cx="736.2" cy="790.3" r="8.1"/><circle cx="737.1" cy="730.2" r="8.1"/><circle cx="737.3" cy="701.1" r="8.1"/><circle cx="738.6" cy="685.7" r="8.1"/><circle cx="738.7" cy="701.8" r="8.1"/><circle cx="739.9" cy="690.4" r="8.1"/><circle cx="740.4" cy="681.8" r="8.1"/><circle cx="741.1" cy="713.6" r="8.1"/><circle cx="742.4" cy="709.5" r="8.1"/><circle cx="743.7" cy="700.7" r="8.1"/><circle cx="745" cy="694.6" r="8.1"/><circle cx="745.1" cy="776.9" r="8.1"/><circle cx="745.7" cy="757.7" r="8.1"/><circle cx="746.3" cy="690.9" r="8.1"/><circle cx="747.6" cy="672" r="8.1"/><circle cx="748.9" cy="671.1" r="8.1"/><circle cx="750.1" cy="687.8" r="8.1"/><circle cx="751.4" cy="690.4" r="8.1"/><circle cx="752.7" cy="692.7" r="8.1"/><circle cx="754" cy="682.6" r="8.1"/><circle cx="755.3" cy="695.6" r="8.1"/><circle cx="756.6" cy="696.6" r="8.1"/><circle cx="757.1" cy="715.2" r="8.1"/><circle cx="757.9" cy="709.5" r="8.1"/><circle cx="757.9" cy="710.6" r="8.1"/><circle cx="758.5" cy="709.2" r="8.1"/><circle cx="759.2" cy="708.3" r="8.1"/><circle cx="759.9" cy="707.3" r="8.1"/><circle cx="760" cy="733.6" r="8.1"/><circle cx="760.4" cy="732.7" r="8.1"/><circle cx="760.6" cy="710.7" r="8.1"/><circle cx="761.3" cy="724.4" r="8.1"/><circle cx="762" cy="715.1" r="8.1"/><circle cx="762.7" cy="702.8" r="8.1"/><circle cx="763.3" cy="702.3" r="8.1"/><circle cx="764" cy="710.4" r="8.1"/><circle cx="764.7" cy="705.9" r="8.1"/><circle cx="764.9" cy="712.7" r="8.1"/><circle cx="765.4" cy="699.1" r="8.1"/><circle cx="766.1" cy="700.1" r="8.1"/><circle cx="766.8" cy="699.5" r="8.1"/><circle cx="767.5" cy="686.2" r="8.1"/><circle cx="768.1" cy="698.1" r="8.1"/><circle cx="768.8" cy="702.6" r="8.1"/><circle cx="769.5" cy="718.3" r="8.1"/><circle cx="770.2" cy="720" r="8.1"/><circle cx="770.9" cy="721.7" r="8.1"/><circle cx="771.6" cy="725" r="8.1"/><circle cx="772.3" cy="725.2" r="8.1"/><circle cx="772.9" cy="702.7" r="8.1"/><circle cx="773.6" cy="702.7" r="8.1"/><circle cx="774.3" cy="702" r="8.1"/><circle cx="775" cy="680.2" r="8.1"/><circle cx="775.7" cy="683.3" r="8.1"/><circle cx="776.4" cy="701.1" r="8.1"/><circle cx="777.1" cy="695.7" r="8.1"/><circle cx="777.7" cy="703.7" r="8.1"/><circle cx="778.4" cy="686.3" r="8.1"/><circle cx="779.1" cy="698.9" r="8.1"/><circle cx="779.8" cy="702.8" r="8.1"/><circle cx="780.5" cy="715.4" r="8.1"/><circle cx="781.2" cy="709.7" r="8.1"/><circle cx="781.9" cy="715.4" r="8.1"/><circle cx="782.5" cy="711.1" r="8.1"/><circle cx="783.2" cy="710.5" r="8.1"/><circle cx="783.9" cy="712.2" r="8.1"/><circle cx="784.6" cy="698.9" r="8.1"/><circle cx="785.3" cy="688.3" r="8.1"/><circle cx="786" cy="688" r="8.1"/><circle cx="786.7" cy="696.6" r="8.1"/><circle cx="787.4" cy="704.9" r="8.1"/><circle cx="788" cy="699.1" r="8.1"/><circle cx="788.7" cy="674.9" r="8.1"/><circle cx="789.4" cy="681.8" r="8.1"/><circle cx="789.5" cy="662.3" r="8.1"/><circle cx="790.1" cy="690.1" r="8.1"/><circle cx="790.5" cy="662.5" r="8.1"/><circle cx="790.8" cy="695.9" r="8.1"/><circle cx="791.5" cy="704" r="8.1"/><circle cx="792.2" cy="709.3" r="8.1"/><circle cx="792.8" cy="706.5" r="8.1"/><circle cx="793.5" cy="689.6" r="8.1"/><circle cx="794.2" cy="688.9" r="8.1"/><circle cx="794.4" cy="726.2" r="8.1"/><circle cx="794.9" cy="692.8" r="8.1"/><circle cx="795.6" cy="705.5" r="8.1"/><circle cx="796.3" cy="699.5" r="8.1"/><circle cx="797" cy="696.8" r="8.1"/><circle cx="797.6" cy="704.9" r="8.1"/><circle cx="798.3" cy="710.1" r="8.1"/><circle cx="799" cy="705.2" r="8.1"/><circle cx="799.3" cy="712.7" r="8.1"/><circle cx="799.7" cy="692.2" r="8.1"/><circle cx="800.4" cy="685.1" r="8.1"/><circle cx="801.1" cy="683" r="8.1"/><circle cx="801.8" cy="685.8" r="8.1"/><circle cx="802.4" cy="682.5" r="8.1"/><circle cx="803.1" cy="682.6" r="8.1"/><circle cx="803.8" cy="664.5" r="8.1"/><circle cx="804.5" cy="677.4" r="8.1"/><circle cx="805.2" cy="681.3" r="8.1"/><circle cx="805.5" cy="651.3" r="8.1"/><circle cx="805.9" cy="671" r="8.1"/><circle cx="806.6" cy="675.2" r="8.1"/><circle cx="807.2" cy="664.8" r="8.1"/><circle cx="807.9" cy="668.4" r="8.1"/><circle cx="808.6" cy="669.7" r="8.1"/><circle cx="809.3" cy="674.8" r="8.1"/><circle cx="810" cy="686.7" r="8.1"/><circle cx="810.7" cy="692.9" r="8.1"/><circle cx="811.4" cy="672.8" r="8.1"/><circle cx="812" cy="669" r="8.1"/><circle cx="812.7" cy="666.5" r="8.1"/><circle cx="813.4" cy="661.8" r="8.1"/><circle cx="814.1" cy="661" r="8.1"/><circle cx="814.8" cy="656.8" r="8.1"/><circle cx="815.5" cy="663.5" r="8.1"/><circle cx="816.2" cy="668.6" r="8.1"/><circle cx="816.8" cy="663.2" r="8.1"/><circle cx="817.5" cy="669.3" r="8.1"/><circle cx="818.2" cy="681.7" r="8.1"/><circle cx="818.9" cy="683.1" r="8.1"/><circle cx="819" cy="705.3" r="8.1"/><circle cx="819.6" cy="686.6" r="8.1"/><circle cx="820.3" cy="680.5" r="8.1"/><circle cx="821" cy="685.9" r="8.1"/><circle cx="821.4" cy="695.5" r="8.1"/><circle cx="821.6" cy="692.8" r="8.1"/><circle cx="822.3" cy="692.8" r="8.1"/><circle cx="823" cy="678.2" r="8.1"/><circle cx="823.7" cy="678.8" r="8.1"/><circle cx="824.4" cy="677.7" r="8.1"/><circle cx="825.1" cy="678" r="8.1"/><circle cx="825.8" cy="676.1" r="8.1"/><circle cx="826.4" cy="669.7" r="8.1"/><circle cx="827.1" cy="660.9" r="8.1"/><circle cx="827.8" cy="677.2" r="8.1"/><circle cx="828.5" cy="667.3" r="8.1"/><circle cx="829.2" cy="669.8" r="8.1"/><circle cx="829.9" cy="674.1" r="8.1"/><circle cx="830.6" cy="656.9" r="8.1"/><circle cx="831.2" cy="662.7" r="8.1"/><circle cx="831.9" cy="654.1" r="8.1"/><circle cx="832.6" cy="654.1" r="8.1"/><circle cx="833.3" cy="667" r="8.1"/><circle cx="834" cy="665.7" r="8.1"/><circle cx="834.7" cy="662.9" r="8.1"/><circle cx="835.4" cy="667.1" r="8.1"/><circle cx="836.1" cy="687.1" r="8.1"/><circle cx="836.7" cy="688.2" r="8.1"/><circle cx="837.4" cy="687.8" r="8.1"/><circle cx="838.1" cy="694.4" r="8.1"/><circle cx="838.8" cy="677.6" r="8.1"/><circle cx="839.5" cy="679.7" r="8.1"/><circle cx="840.2" cy="682.6" r="8.1"/><circle cx="840.9" cy="684.1" r="8.1"/><circle cx="841.5" cy="689" r="8.1"/><circle cx="842.2" cy="692.8" r="8.1"/><circle cx="842.9" cy="689.3" r="8.1"/><circle cx="843.5" cy="727.4" r="8.1"/><circle cx="843.5" cy="717.6" r="8.1"/><circle cx="843.6" cy="684.9" r="8.1"/><circle cx="844.3" cy="687.5" r="8.1"/><circle cx="844.8" cy="707.8" r="8.1"/><circle cx="845" cy="686.5" r="8.1"/><circle cx="845.7" cy="695.3" r="8.1"/><circle cx="846.3" cy="688.1" r="8.1"/><circle cx="847" cy="691.9" r="8.1"/><circle cx="847.7" cy="687.6" r="8.1"/><circle cx="848.4" cy="692.6" r="8.1"/><circle cx="849.1" cy="693.7" r="8.1"/><circle cx="849.8" cy="689.1" r="8.1"/><circle cx="850.5" cy="696" r="8.1"/><circle cx="851.1" cy="674.2" r="8.1"/><circle cx="851.8" cy="675.4" r="8.1"/><circle cx="852.5" cy="676.6" r="8.1"/><circle cx="853.2" cy="682.4" r="8.1"/><circle cx="853.9" cy="669.9" r="8.1"/><circle cx="854.6" cy="661.4" r="8.1"/><circle cx="855.3" cy="662.6" r="8.1"/><circle cx="855.9" cy="675.9" r="8.1"/><circle cx="856.6" cy="680.1" r="8.1"/><circle cx="857.3" cy="675.3" r="8.1"/><circle cx="858" cy="679.7" r="8.1"/><circle cx="858.7" cy="688.1" r="8.1"/><circle cx="859.4" cy="694.9" r="8.1"/><circle cx="860.1" cy="697.2" r="8.1"/><circle cx="860.7" cy="693.4" r="8.1"/><circle cx="861.4" cy="695.1" r="8.1"/><circle cx="862.1" cy="691.6" r="8.1"/><circle cx="862.8" cy="668.5" r="8.1"/><circle cx="863.5" cy="657.6" r="8.1"/><circle cx="864.2" cy="669.3" r="8.1"/><circle cx="864.9" cy="668.6" r="8.1"/><circle cx="865.5" cy="669.9" r="8.1"/><circle cx="866.2" cy="672.6" r="8.1"/><circle cx="866.9" cy="666.1" r="8.1"/><circle cx="867.6" cy="670.9" r="8.1"/><circle cx="868.1" cy="722.5" r="8.1"/><circle cx="868.3" cy="674.7" r="8.1"/><circle cx="869" cy="678.1" r="8.1"/><circle cx="869.3" cy="711.4" r="8.1"/><circle cx="869.7" cy="678.9" r="8.1"/><circle cx="870.3" cy="669.4" r="8.1"/><circle cx="871" cy="665.5" r="8.1"/><circle cx="871.7" cy="677.7" r="8.1"/><circle cx="871.8" cy="653.7" r="8.1"/><circle cx="872.4" cy="681" r="8.1"/><circle cx="873.1" cy="686.1" r="8.1"/><circle cx="873.8" cy="678.6" r="8.1"/><circle cx="874.5" cy="676.8" r="8.1"/><circle cx="875.1" cy="670.7" r="8.1"/><circle cx="875.8" cy="672.6" r="8.1"/><circle cx="876.5" cy="687.3" r="8.1"/><circle cx="877.2" cy="682.2" r="8.1"/><circle cx="877.9" cy="679.7" r="8.1"/><circle cx="878.6" cy="675.7" r="8.1"/><circle cx="879.3" cy="685.4" r="8.1"/><circle cx="879.9" cy="683.3" r="8.1"/><circle cx="880.6" cy="687.1" r="8.1"/><circle cx="881.3" cy="690.1" r="8.1"/><circle cx="882" cy="685.1" r="8.1"/><circle cx="882.7" cy="681.1" r="8.1"/><circle cx="883.4" cy="686.7" r="8.1"/><circle cx="884.1" cy="697" r="8.1"/><circle cx="884.8" cy="701.3" r="8.1"/><circle cx="885.4" cy="700.6" r="8.1"/><circle cx="886.1" cy="688" r="8.1"/><circle cx="886.8" cy="686.3" r="8.1"/><circle cx="887.5" cy="700.4" r="8.1"/><circle cx="888.2" cy="701.1" r="8.1"/><circle cx="888.9" cy="693.3" r="8.1"/><circle cx="889.6" cy="678.4" r="8.1"/><circle cx="890.2" cy="670" r="8.1"/><circle cx="890.9" cy="668.9" r="8.1"/><circle cx="891.6" cy="669.3" r="8.1"/><circle cx="892.3" cy="678.3" r="8.1"/><circle cx="893" cy="681.4" r="8.1"/><circle cx="893.7" cy="682.9" r="8.1"/><circle cx="894.4" cy="687.3" r="8.1"/><circle cx="895" cy="684.9" r="8.1"/><circle cx="895.7" cy="686.2" r="8.1"/><circle cx="896.4" cy="682.1" r="8.1"/><circle cx="897.1" cy="671.1" r="8.1"/><circle cx="897.8" cy="667.2" r="8.1"/><circle cx="898.5" cy="666.3" r="8.1"/><circle cx="899.2" cy="670.2" r="8.1"/><circle cx="899.8" cy="682.4" r="8.1"/><circle cx="900.5" cy="682.2" r="8.1"/><circle cx="901.2" cy="677.4" r="8.1"/><circle cx="901.9" cy="684.5" r="8.1"/><circle cx="902.6" cy="674.3" r="8.1"/><circle cx="903.3" cy="677.3" r="8.1"/><circle cx="904" cy="674.7" r="8.1"/><circle cx="904.6" cy="677.6" r="8.1"/><circle cx="905.3" cy="686.4" r="8.1"/><circle cx="906" cy="670.1" r="8.1"/><circle cx="906.2" cy="645.1" r="8.1"/><circle cx="906.7" cy="679.7" r="8.1"/><circle cx="907.4" cy="672.8" r="8.1"/><circle cx="908.1" cy="677.7" r="8.1"/><circle cx="908.8" cy="675.7" r="8.1"/><circle cx="909.4" cy="681.7" r="8.1"/><circle cx="910.1" cy="683.8" r="8.1"/><circle cx="910.8" cy="676.1" r="8.1"/><circle cx="911.5" cy="662.7" r="8.1"/><circle cx="912.2" cy="671.6" r="8.1"/><circle cx="912.9" cy="672.7" r="8.1"/><circle cx="913.6" cy="667" r="8.1"/><circle cx="914.2" cy="673.5" r="8.1"/><circle cx="914.9" cy="669.3" r="8.1"/><circle cx="915.6" cy="676.5" r="8.1"/><circle cx="916.3" cy="672.5" r="8.1"/><circle cx="917" cy="670.4" r="8.1"/><circle cx="917.7" cy="663.3" r="8.1"/><circle cx="918.4" cy="663.6" r="8.1"/><circle cx="919" cy="674.8" r="8.1"/><circle cx="919.7" cy="670.6" r="8.1"/><circle cx="920.4" cy="679.8" r="8.1"/><circle cx="921.1" cy="674" r="8.1"/><circle cx="921.8" cy="664.1" r="8.1"/><circle cx="922.5" cy="662.6" r="8.1"/><circle cx="923.2" cy="669.5" r="8.1"/><circle cx="923.8" cy="662.7" r="8.1"/><circle cx="924.5" cy="664.5" r="8.1"/><circle cx="925.2" cy="675.8" r="8.1"/><circle cx="925.9" cy="678.7" r="8.1"/><circle cx="926.6" cy="668.5" r="8.1"/><circle cx="927.1" cy="658.6" r="8.1"/><circle cx="927.3" cy="672.4" r="8.1"/><circle cx="928" cy="672.6" r="8.1"/><circle cx="928.7" cy="676" r="8.1"/><circle cx="929.3" cy="688.1" r="8.1"/><circle cx="930" cy="689.6" r="8.1"/><circle cx="930.7" cy="684.7" r="8.1"/><circle cx="931.4" cy="681.8" r="8.1"/><circle cx="932" cy="716.4" r="8.1"/><circle cx="932.1" cy="682.1" r="8.1"/><circle cx="932.8" cy="696.2" r="8.1"/><circle cx="933.5" cy="683.9" r="8.1"/><circle cx="934.1" cy="677.6" r="8.1"/><circle cx="934.8" cy="670.4" r="8.1"/><circle cx="935.5" cy="662.6" r="8.1"/><circle cx="936.2" cy="668.7" r="8.1"/><circle cx="936.9" cy="674.7" r="8.1"/><circle cx="937.6" cy="673.1" r="8.1"/><circle cx="938.3" cy="662.2" r="8.1"/><circle cx="938.9" cy="677.1" r="8.1"/><circle cx="939.6" cy="678.8" r="8.1"/><circle cx="940.3" cy="683.6" r="8.1"/><circle cx="941" cy="678.4" r="8.1"/><circle cx="941.7" cy="668" r="8.1"/><circle cx="942.4" cy="671.9" r="8.1"/><circle cx="943.1" cy="681.8" r="8.1"/><circle cx="943.7" cy="680.6" r="8.1"/><circle cx="944.4" cy="682" r="8.1"/><circle cx="945.1" cy="691.9" r="8.1"/><circle cx="945.8" cy="682.8" r="8.1"/><circle cx="946.5" cy="685.4" r="8.1"/><circle cx="947.2" cy="679" r="8.1"/><circle cx="947.9" cy="688" r="8.1"/><circle cx="948.5" cy="678.2" r="8.1"/><circle cx="949.2" cy="688.2" r="8.1"/><circle cx="949.9" cy="678.6" r="8.1"/><circle cx="950.4" cy="729.9" r="8.1"/><circle cx="950.6" cy="691.1" r="8.1"/><circle cx="951.2" cy="710.2" r="8.1"/><circle cx="951.3" cy="678.7" r="8.1"/><circle cx="952" cy="681.1" r="8.1"/><circle cx="952.7" cy="691.3" r="8.1"/><circle cx="953.3" cy="690.2" r="8.1"/><circle cx="954" cy="685.3" r="8.1"/><circle cx="954.7" cy="690.7" r="8.1"/><circle cx="955.4" cy="691.5" r="8.1"/><circle cx="956.1" cy="686.8" r="8.1"/><circle cx="956.8" cy="686.2" r="8.1"/><circle cx="957.5" cy="700.9" r="8.1"/><circle cx="958.1" cy="699.3" r="8.1"/><circle cx="958.8" cy="691.9" r="8.1"/><circle cx="959.5" cy="686.9" r="8.1"/><circle cx="960.2" cy="678" r="8.1"/><circle cx="960.9" cy="682.7" r="8.1"/><circle cx="961.6" cy="663.7" r="8.1"/><circle cx="962.3" cy="660.9" r="8.1"/><circle cx="962.9" cy="662" r="8.1"/><circle cx="963.6" cy="657.5" r="8.1"/><circle cx="964.3" cy="654.8" r="8.1"/><circle cx="965" cy="658.7" r="8.1"/><circle cx="965.7" cy="666.8" r="8.1"/><circle cx="966.4" cy="661.8" r="8.1"/><circle cx="967.1" cy="662.1" r="8.1"/><circle cx="967.7" cy="678.4" r="8.1"/><circle cx="968.4" cy="686" r="8.1"/><circle cx="969.1" cy="681.1" r="8.1"/><circle cx="969.8" cy="679.6" r="8.1"/><circle cx="970.5" cy="677.3" r="8.1"/><circle cx="971.2" cy="672.9" r="8.1"/><circle cx="971.9" cy="672.9" r="8.1"/><circle cx="972.5" cy="662.9" r="8.1"/><circle cx="973.2" cy="670" r="8.1"/><circle cx="973.9" cy="674.3" r="8.1"/><circle cx="974.6" cy="672.8" r="8.1"/><circle cx="975.3" cy="668.6" r="8.1"/><circle cx="976" cy="665" r="8.1"/><circle cx="976.7" cy="657.3" r="8.1"/><circle cx="977.4" cy="664.7" r="8.1"/><circle cx="978" cy="659.3" r="8.1"/><circle cx="978.7" cy="659.8" r="8.1"/><circle cx="979.4" cy="670.6" r="8.1"/><circle cx="980.1" cy="673.1" r="8.1"/><circle cx="980.8" cy="659.6" r="8.1"/><circle cx="981.5" cy="657.9" r="8.1"/><circle cx="982.2" cy="665.2" r="8.1"/><circle cx="982.8" cy="684.3" r="8.1"/><circle cx="983.5" cy="688.1" r="8.1"/><circle cx="984.2" cy="690.9" r="8.1"/><circle cx="984.8" cy="699.2" r="8.1"/><circle cx="984.9" cy="687.8" r="8.1"/><circle cx="985.6" cy="670" r="8.1"/><circle cx="986.3" cy="666.5" r="8.1"/><circle cx="987" cy="666.7" r="8.1"/><circle cx="987.6" cy="675.4" r="8.1"/><circle cx="988.3" cy="684.1" r="8.1"/><circle cx="989" cy="684.3" r="8.1"/><circle cx="989.7" cy="686.3" r="8.1"/><circle cx="990.4" cy="664.1" r="8.1"/><circle cx="991.1" cy="669.7" r="8.1"/><circle cx="991.8" cy="675.6" r="8.1"/><circle cx="992.4" cy="668.4" r="8.1"/><circle cx="993.1" cy="669.9" r="8.1"/><circle cx="993.8" cy="680" r="8.1"/><circle cx="994.5" cy="670.9" r="8.1"/><circle cx="995.2" cy="674.5" r="8.1"/><circle cx="995.9" cy="684.3" r="8.1"/><circle cx="996.6" cy="680.9" r="8.1"/><circle cx="997.2" cy="677.1" r="8.1"/><circle cx="997.9" cy="679.6" r="8.1"/><circle cx="998.6" cy="674.7" r="8.1"/><circle cx="999.3" cy="669.9" r="8.1"/><circle cx="1000" cy="677.5" r="8.1"/><circle cx="1000.7" cy="691.7" r="8.1"/><circle cx="1001.4" cy="700.9" r="8.1"/><circle cx="1002" cy="697.3" r="8.1"/><circle cx="1002.7" cy="685.2" r="8.1"/><circle cx="1003.2" cy="727.4" r="8.1"/><circle cx="1003.2" cy="713.9" r="8.1"/><circle cx="1003.4" cy="677.1" r="8.1"/><circle cx="1004.1" cy="668" r="8.1"/><circle cx="1004.8" cy="657.6" r="8.1"/><circle cx="1005.5" cy="661.7" r="8.1"/><circle cx="1006.2" cy="658" r="8.1"/><circle cx="1006.8" cy="672.4" r="8.1"/><circle cx="1007.5" cy="669" r="8.1"/><circle cx="1008.2" cy="668.3" r="8.1"/><circle cx="1008.9" cy="671" r="8.1"/><circle cx="1009.6" cy="675.5" r="8.1"/><circle cx="1010.3" cy="683.6" r="8.1"/><circle cx="1010.6" cy="696.7" r="8.1"/><circle cx="1011" cy="681.7" r="8.1"/><circle cx="1011.6" cy="672.5" r="8.1"/><circle cx="1012.3" cy="676.2" r="8.1"/><circle cx="1013" cy="673.2" r="8.1"/><circle cx="1013.7" cy="678.7" r="8.1"/><circle cx="1014.4" cy="677" r="8.1"/><circle cx="1015.1" cy="684.1" r="8.1"/><circle cx="1015.8" cy="680.5" r="8.1"/><circle cx="1016.4" cy="681.6" r="8.1"/><circle cx="1016.8" cy="639" r="8.1"/><circle cx="1017.1" cy="679" r="8.1"/><circle cx="1017.8" cy="683" r="8.1"/><circle cx="1018" cy="651.3" r="8.1"/><circle cx="1018.5" cy="690" r="8.1"/><circle cx="1019.2" cy="689.9" r="8.1"/><circle cx="1019.9" cy="680.9" r="8.1"/><circle cx="1020.6" cy="670.1" r="8.1"/><circle cx="1021.2" cy="674.1" r="8.1"/><circle cx="1021.9" cy="669.8" r="8.1"/><circle cx="1022.6" cy="666.7" r="8.1"/><circle cx="1022.9" cy="658.6" r="8.1"/><circle cx="1023.3" cy="666.7" r="8.1"/><circle cx="1024" cy="679.7" r="8.1"/><circle cx="1024.7" cy="677.5" r="8.1"/><circle cx="1025.4" cy="684.5" r="8.1"/><circle cx="1026.1" cy="675.7" r="8.1"/><circle cx="1026.7" cy="671.3" r="8.1"/><circle cx="1027.4" cy="668.9" r="8.1"/><circle cx="1028.1" cy="688.3" r="8.1"/><circle cx="1028.8" cy="682.5" r="8.1"/><circle cx="1029.5" cy="677.4" r="8.1"/><circle cx="1030.2" cy="686.7" r="8.1"/><circle cx="1030.9" cy="678.9" r="8.1"/><circle cx="1031.5" cy="715.1" r="8.1"/><circle cx="1031.5" cy="678.8" r="8.1"/><circle cx="1032.2" cy="680.4" r="8.1"/><circle cx="1032.9" cy="685.4" r="8.1"/><circle cx="1033.6" cy="691.5" r="8.1"/><circle cx="1034.3" cy="692.4" r="8.1"/><circle cx="1035" cy="669" r="8.1"/><circle cx="1035.7" cy="670.1" r="8.1"/><circle cx="1036.3" cy="670.9" r="8.1"/><circle cx="1037" cy="677.5" r="8.1"/><circle cx="1037.7" cy="682.5" r="8.1"/><circle cx="1038.4" cy="686.1" r="8.1"/><circle cx="1039.1" cy="691.4" r="8.1"/><circle cx="1039.8" cy="683.4" r="8.1"/><circle cx="1040.5" cy="685" r="8.1"/><circle cx="1041.1" cy="678.4" r="8.1"/><circle cx="1041.8" cy="687.2" r="8.1"/><circle cx="1042.5" cy="679.7" r="8.1"/><circle cx="1043.2" cy="680.4" r="8.1"/><circle cx="1043.8" cy="697.9" r="8.1"/><circle cx="1043.9" cy="676.2" r="8.1"/><circle cx="1044.6" cy="678.1" r="8.1"/><circle cx="1045.3" cy="685.2" r="8.1"/><circle cx="1045.9" cy="676.2" r="8.1"/><circle cx="1046.6" cy="680.6" r="8.1"/><circle cx="1047.3" cy="682" r="8.1"/><circle cx="1048" cy="688.4" r="8.1"/><circle cx="1048.7" cy="685.9" r="8.1"/><circle cx="1049.4" cy="688.1" r="8.1"/><circle cx="1050.1" cy="685.1" r="8.1"/><circle cx="1050.7" cy="682.3" r="8.1"/><circle cx="1051.4" cy="687.4" r="8.1"/><circle cx="1052.1" cy="696.6" r="8.1"/><circle cx="1052.8" cy="690.9" r="8.1"/><circle cx="1053.5" cy="683" r="8.1"/><circle cx="1054.2" cy="678.2" r="8.1"/><circle cx="1054.9" cy="687.4" r="8.1"/><circle cx="1055.5" cy="682.4" r="8.1"/><circle cx="1056.2" cy="680" r="8.1"/><circle cx="1056.9" cy="678.8" r="8.1"/><circle cx="1057.6" cy="676.8" r="8.1"/><circle cx="1058.3" cy="680.6" r="8.1"/><circle cx="1059" cy="679.8" r="8.1"/><circle cx="1059.7" cy="674.1" r="8.1"/><circle cx="1060.3" cy="679.8" r="8.1"/><circle cx="1061" cy="691.1" r="8.1"/><circle cx="1061.7" cy="690.5" r="8.1"/><circle cx="1062.4" cy="688" r="8.1"/><circle cx="1063.1" cy="700.7" r="8.1"/><circle cx="1063.8" cy="702.4" r="8.1"/><circle cx="1064.5" cy="694.7" r="8.1"/><circle cx="1065.1" cy="693.9" r="8.1"/><circle cx="1065.8" cy="691.5" r="8.1"/><circle cx="1066.5" cy="699.4" r="8.1"/><circle cx="1067.2" cy="690" r="8.1"/><circle cx="1067.9" cy="676.4" r="8.1"/><circle cx="1068.6" cy="679.7" r="8.1"/><circle cx="1069.3" cy="686.2" r="8.1"/><circle cx="1069.9" cy="694.5" r="8.1"/><circle cx="1070.6" cy="686.3" r="8.1"/><circle cx="1071.3" cy="685.5" r="8.1"/><circle cx="1072" cy="725" r="8.1"/><circle cx="1072" cy="691.4" r="8.1"/><circle cx="1072.7" cy="681.4" r="8.1"/><circle cx="1073.4" cy="676.8" r="8.1"/><circle cx="1074.1" cy="674.2" r="8.1"/><circle cx="1074.8" cy="689.6" r="8.1"/><circle cx="1075.4" cy="689.7" r="8.1"/><circle cx="1076.1" cy="684.5" r="8.1"/><circle cx="1076.8" cy="694" r="8.1"/><circle cx="1077.5" cy="685.7" r="8.1"/><circle cx="1078.2" cy="675.3" r="8.1"/><circle cx="1078.9" cy="669.9" r="8.1"/><circle cx="1079.6" cy="678.8" r="8.1"/><circle cx="1080.2" cy="686" r="8.1"/><circle cx="1080.9" cy="679.7" r="8.1"/><circle cx="1081.6" cy="674.4" r="8.1"/><circle cx="1082.3" cy="668.6" r="8.1"/><circle cx="1083" cy="664.5" r="8.1"/><circle cx="1083.7" cy="670.6" r="8.1"/><circle cx="1084.3" cy="688.1" r="8.1"/><circle cx="1084.4" cy="677.7" r="8.1"/><circle cx="1085" cy="694" r="8.1"/><circle cx="1085.6" cy="707.8" r="8.1"/><circle cx="1085.7" cy="687.9" r="8.1"/><circle cx="1086.4" cy="672.6" r="8.1"/><circle cx="1086.8" cy="747.1" r="8.1"/><circle cx="1087.1" cy="680" r="8.1"/><circle cx="1087.8" cy="686.1" r="8.1"/><circle cx="1088" cy="737.2" r="8.1"/><circle cx="1088.5" cy="683.1" r="8.1"/><circle cx="1089.2" cy="682.7" r="8.1"/><circle cx="1089.2" cy="727.4" r="8.1"/><circle cx="1089.8" cy="694.7" r="8.1"/>
</g>
<g fill="#c0c0c0" stroke="#000" stroke-width="3.8">
<circle cx="369.6" cy="2270" r="7.5"/><circle cx="370.3" cy="2279.9" r="7.5"/><circle cx="371" cy="2275.4" r="7.5"/><circle cx="371.7" cy="2275.6" r="7.5"/><circle cx="372.4" cy="2286.2" r="7.5"/><circle cx="373.1" cy="2283" r="7.5"/><circle cx="373.7" cy="2281.8" r="7.5"/><circle cx="374.4" cy="2281.1" r="7.5"/><circle cx="375.1" cy="2287.8" r="7.5"/><circle cx="375.8" cy="2286.4" r="7.5"/><circle cx="376.5" cy="2288.5" r="7.5"/><circle cx="377.2" cy="2288.2" r="7.5"/><circle cx="377.9" cy="2279.9" r="7.5"/><circle cx="378.6" cy="2278.4" r="7.5"/><circle cx="379.3" cy="2289.8" r="7.5"/><circle cx="380" cy="2286.2" r="7.5"/><circle cx="380.7" cy="2288.5" r="7.5"/><circle cx="381.4" cy="2295.7" r="7.5"/><circle cx="382.1" cy="2282.8" r="7.5"/><circle cx="382.8" cy="2282" r="7.5"/><circle cx="383.5" cy="2294.5" r="7.5"/><circle cx="384.2" cy="2299" r="7.5"/><circle cx="384.9" cy="2309.6" r="7.5"/><circle cx="385.6" cy="2310.1" r="7.5"/><circle cx="386.3" cy="2310.6" r="7.5"/><circle cx="387" cy="2294.7" r="7.5"/><circle cx="387.7" cy="2300.8" r="7.5"/><circle cx="388.4" cy="2291.3" r="7.5"/><circle cx="389" cy="2296.1" r="7.5"/><circle cx="389.7" cy="2301.3" r="7.5"/><circle cx="390.4" cy="2292.1" r="7.5"/><circle cx="391.1" cy="2289.7" r="7.5"/><circle cx="391.8" cy="2294.8" r="7.5"/><circle cx="392.5" cy="2305.8" r="7.5"/><circle cx="393.2" cy="2313" r="7.5"/><circle cx="393.9" cy="2304.1" r="7.5"/><circle cx="394.6" cy="2300.5" r="7.5"/><circle cx="395.3" cy="2296.3" r="7.5"/><circle cx="396" cy="2304.3" r="7.5"/><circle cx="396.7" cy="2291.1" r="7.5"/><circle cx="397.4" cy="2294.4" r="7.5"/><circle cx="398.1" cy="2294.4" r="7.5"/><circle cx="398.8" cy="2296.3" r="7.5"/><circle cx="399.5" cy="2298.3" r="7.5"/><circle cx="400.2" cy="2302.4" r="7.5"/><circle cx="400.9" cy="2294.1" r="7.5"/><circle cx="401.6" cy="2296" r="7.5"/><circle cx="402.3" cy="2306.2" r="7.5"/><circle cx="403" cy="2310.8" r="7.5"/><circle cx="403.7" cy="2305.1" r="7.5"/><circle cx="404.3" cy="2310.8" r="7.5"/><circle cx="405" cy="2298" r="7.5"/><circle cx="405.7" cy="2308.1" r="7.5"/><circle cx="406.4" cy="2310.7" r="7.5"/><circle cx="407.1" cy="2300.6" r="7.5"/><circle cx="407.8" cy="2296.9" r="7.5"/><circle cx="408.5" cy="2306.6" r="7.5"/><circle cx="409.2" cy="2322.4" r="7.5"/><circle cx="409.9" cy="2318.1" r="7.5"/><circle cx="410.6" cy="2307.1" r="7.5"/><circle cx="411.3" cy="2301.4" r="7.5"/><circle cx="412" cy="2311.7" r="7.5"/><circle cx="412.7" cy="2309.1" r="7.5"/><circle cx="413.4" cy="2313.5" r="7.5"/><circle cx="414.1" cy="2312.4" r="7.5"/><circle cx="414.8" cy="2314.8" r="7.5"/><circle cx="421.8" cy="2315.9" r="7.5"/><circle cx="424" cy="2309.2" r="7.5"/><circle cx="426.3" cy="2302.5" r="7.5"/><circle cx="428.5" cy="2295.8" r="7.5"/><circle cx="429.6" cy="2289.1" r="7.5"/><circle cx="431.2" cy="2278" r="7.5"/><circle cx="431.8" cy="2321.4" r="7.5"/><circle cx="433" cy="2371.1" r="7.5"/><circle cx="435.6" cy="2456.8" r="7.5"/><circle cx="436.3" cy="2419.4" r="7.5"/><circle cx="437.9" cy="2430.6" r="7.5"/><circle cx="440.7" cy="2476.2" r="7.5"/><circle cx="443.4" cy="2484.7" r="7.5"/><circle cx="444.1" cy="2528.6" r="7.5"/><circle cx="444.1" cy="2585.3" r="7.5"/><circle cx="445.2" cy="2537.5" r="7.5"/><circle cx="446.3" cy="2569.8" r="7.5"/><circle cx="447.4" cy="2594.3" r="7.5"/><circle cx="448.5" cy="2603.2" r="7.5"/><circle cx="449.7" cy="2623.2" r="7.5"/><circle cx="450.8" cy="2634.3" r="7.5"/><circle cx="453" cy="2577.6" r="7.5"/><circle cx="453" cy="2616.5" r="7.5"/><circle cx="455.2" cy="2627.7" r="7.5"/><circle cx="457.4" cy="2587.6" r="7.5"/><circle cx="459.7" cy="2603.2" r="7.5"/><circle cx="461.9" cy="2612.1" r="7.5"/><circle cx="464.1" cy="2621" r="7.5"/><circle cx="466.4" cy="2572" r="7.5"/><circle cx="467.5" cy="2595.4" r="7.5"/><circle cx="468.6" cy="2625.4" r="7.5"/><circle cx="470.8" cy="2567.5" r="7.5"/><circle cx="470.8" cy="2579.8" r="7.5"/><circle cx="473" cy="2607.6" r="7.5"/><circle cx="475.3" cy="2616.5" r="7.5"/><circle cx="476.4" cy="2576.4" r="7.5"/><circle cx="478.6" cy="2632.1" r="7.5"/><circle cx="479.7" cy="2592" r="7.5"/><circle cx="481.9" cy="2603.2" r="7.5"/><circle cx="484.2" cy="2550.8" r="7.5"/><circle cx="485.3" cy="2572" r="7.5"/><circle cx="488.6" cy="2594.7" r="7.5"/><circle cx="488.7" cy="2297.7" r="7.5"/><circle cx="489.6" cy="2301.5" r="7.5"/><circle cx="489.7" cy="2612.1" r="7.5"/><circle cx="490.4" cy="2317.8" r="7.5"/><circle cx="490.9" cy="2580.9" r="7.5"/><circle cx="491.3" cy="2343.6" r="7.5"/><circle cx="492" cy="2544.1" r="7.5"/><circle cx="492.2" cy="2324.9" r="7.5"/><circle cx="493" cy="2349" r="7.5"/><circle cx="493.5" cy="2514.1" r="7.5"/><circle cx="493.9" cy="2351.7" r="7.5"/><circle cx="494.2" cy="2486.9" r="7.5"/><circle cx="494.8" cy="2350.6" r="7.5"/><circle cx="495.3" cy="2466.9" r="7.5"/><circle cx="495.6" cy="2340.5" r="7.5"/><circle cx="496.4" cy="2403.8" r="7.5"/><circle cx="496.5" cy="2348.2" r="7.5"/><circle cx="497.4" cy="2324.7" r="7.5"/><circle cx="498.2" cy="2327.2" r="7.5"/><circle cx="499.1" cy="2323.5" r="7.5"/><circle cx="499.8" cy="2298" r="7.5"/><circle cx="500" cy="2317.4" r="7.5"/><circle cx="500.9" cy="2330.2" r="7.5"/><circle cx="500.9" cy="2308.1" r="7.5"/><circle cx="501.7" cy="2325" r="7.5"/><circle cx="502.6" cy="2287.5" r="7.5"/><circle cx="503.5" cy="2317.7" r="7.5"/><circle cx="504.3" cy="2318" r="7.5"/><circle cx="505.2" cy="2312.1" r="7.5"/><circle cx="505.3" cy="2378.9" r="7.5"/><circle cx="506.1" cy="2326" r="7.5"/><circle cx="506.9" cy="2326.2" r="7.5"/><circle cx="507.8" cy="2354" r="7.5"/><circle cx="508.7" cy="2349.4" r="7.5"/><circle cx="509.5" cy="2338.6" r="7.5"/><circle cx="509.8" cy="2331" r="7.5"/><circle cx="510.4" cy="2313.8" r="7.5"/><circle cx="511.3" cy="2301.7" r="7.5"/><circle cx="512.2" cy="2320.2" r="7.5"/><circle cx="513" cy="2340.3" r="7.5"/><circle cx="513.9" cy="2302.6" r="7.5"/><circle cx="514.8" cy="2295.9" r="7.5"/><circle cx="515.6" cy="2339" r="7.5"/><circle cx="516.5" cy="2338.4" r="7.5"/><circle cx="517.4" cy="2347.4" r="7.5"/><circle cx="518.2" cy="2347.8" r="7.5"/><circle cx="519.1" cy="2362.8" r="7.5"/><circle cx="519.8" cy="2392.7" r="7.5"/><circle cx="520" cy="2353.8" r="7.5"/><circle cx="520.8" cy="2350" r="7.5"/><circle cx="521.7" cy="2343" r="7.5"/><circle cx="522" cy="2363.7" r="7.5"/><circle cx="522.6" cy="2317.4" r="7.5"/><circle cx="523.5" cy="2315.7" r="7.5"/><circle cx="524.3" cy="2338.7" r="7.5"/><circle cx="525.2" cy="2361" r="7.5"/><circle cx="526.1" cy="2354.3" r="7.5"/><circle cx="526.9" cy="2322.3" r="7.5"/><circle cx="527.8" cy="2306.6" r="7.5"/><circle cx="528.7" cy="2322.5" r="7.5"/><circle cx="529.5" cy="2303" r="7.5"/><circle cx="530.4" cy="2303.4" r="7.5"/><circle cx="531.3" cy="2320.7" r="7.5"/><circle cx="532.2" cy="2314" r="7.5"/><circle cx="533" cy="2318.3" r="7.5"/><circle cx="533.9" cy="2337.9" r="7.5"/><circle cx="534.8" cy="2338.3" r="7.5"/><circle cx="535.6" cy="2328.8" r="7.5"/><circle cx="536.5" cy="2304.1" r="7.5"/><circle cx="536.5" cy="2357.7" r="7.5"/><circle cx="537.4" cy="2327.9" r="7.5"/><circle cx="538.2" cy="2321.2" r="7.5"/><circle cx="539.1" cy="2320.7" r="7.5"/><circle cx="540" cy="2321.6" r="7.5"/><circle cx="540.8" cy="2341.1" r="7.5"/><circle cx="541.7" cy="2312.4" r="7.5"/><circle cx="542.6" cy="2294.6" r="7.5"/><circle cx="543.5" cy="2279" r="7.5"/><circle cx="544.3" cy="2288" r="7.5"/><circle cx="545.2" cy="2278.6" r="7.5"/><circle cx="546.1" cy="2286.5" r="7.5"/><circle cx="546.9" cy="2283.9" r="7.5"/><circle cx="547.8" cy="2303.7" r="7.5"/><circle cx="548.7" cy="2306.6" r="7.5"/><circle cx="549.5" cy="2317.2" r="7.5"/><circle cx="550.4" cy="2335.2" r="7.5"/><circle cx="551.3" cy="2335.9" r="7.5"/><circle cx="552.1" cy="2347.4" r="7.5"/><circle cx="553" cy="2354.1" r="7.5"/><circle cx="553.9" cy="2346.5" r="7.5"/><circle cx="554.8" cy="2345" r="7.5"/><circle cx="555.6" cy="2301.4" r="7.5"/><circle cx="556.5" cy="2279.9" r="7.5"/><circle cx="557.4" cy="2277.9" r="7.5"/><circle cx="558.2" cy="2281.1" r="7.5"/><circle cx="559.1" cy="2308.8" r="7.5"/><circle cx="560" cy="2307.4" r="7.5"/><circle cx="560.8" cy="2333.1" r="7.5"/><circle cx="561" cy="2331.4" r="7.5"/><circle cx="561.7" cy="2335.6" r="7.5"/><circle cx="562.1" cy="2345.9" r="7.5"/><circle cx="562.6" cy="2334.6" r="7.5"/><circle cx="563.2" cy="2361.5" r="7.5"/><circle cx="563.4" cy="2332.1" r="7.5"/><circle cx="563.5" cy="2347.7" r="7.5"/><circle cx="563.5" cy="2361.8" r="7.5"/><circle cx="564.3" cy="2311.5" r="7.5"/><circle cx="565.2" cy="2324.3" r="7.5"/><circle cx="566.1" cy="2283" r="7.5"/><circle cx="566.9" cy="2302.6" r="7.5"/><circle cx="567.8" cy="2293.5" r="7.5"/><circle cx="568.7" cy="2324.6" r="7.5"/><circle cx="569.5" cy="2305.5" r="7.5"/><circle cx="570.4" cy="2326" r="7.5"/><circle cx="571.3" cy="2316.7" r="7.5"/><circle cx="572.1" cy="2313.5" r="7.5"/><circle cx="573" cy="2298.3" r="7.5"/><circle cx="573.9" cy="2291.7" r="7.5"/><circle cx="574.8" cy="2290.5" r="7.5"/><circle cx="574.9" cy="2305.6" r="7.5"/><circle cx="575.6" cy="2297" r="7.5"/><circle cx="576.5" cy="2269.6" r="7.5"/><circle cx="577.4" cy="2287.7" r="7.5"/><circle cx="577.4" cy="2296" r="7.5"/><circle cx="578.1" cy="2287.7" r="7.5"/><circle cx="578.2" cy="2291.1" r="7.5"/><circle cx="578.8" cy="2320.3" r="7.5"/><circle cx="578.9" cy="2284.1" r="7.5"/><circle cx="579.1" cy="2299.4" r="7.5"/><circle cx="579.3" cy="2319.6" r="7.5"/><circle cx="579.7" cy="2287.3" r="7.5"/><circle cx="579.9" cy="2335.9" r="7.5"/><circle cx="579.9" cy="2284.7" r="7.5"/><circle cx="580" cy="2295" r="7.5"/><circle cx="580.5" cy="2285.9" r="7.5"/><circle cx="580.7" cy="2336.8" r="7.5"/><circle cx="580.8" cy="2307.5" r="7.5"/><circle cx="581.3" cy="2293.5" r="7.5"/><circle cx="581.7" cy="2306.4" r="7.5"/><circle cx="582.1" cy="2291.4" r="7.5"/><circle cx="582.6" cy="2292.1" r="7.5"/><circle cx="582.8" cy="2293.4" r="7.5"/><circle cx="583.3" cy="2254.6" r="7.5"/><circle cx="583.4" cy="2298.3" r="7.5"/><circle cx="583.6" cy="2268" r="7.5"/><circle cx="584.3" cy="2286.6" r="7.5"/><circle cx="584.4" cy="2238.4" r="7.5"/><circle cx="584.4" cy="2261" r="7.5"/><circle cx="584.6" cy="2238.1" r="7.5"/><circle cx="585.2" cy="2293.8" r="7.5"/><circle cx="585.2" cy="2269.8" r="7.5"/><circle cx="585.4" cy="2254.7" r="7.5"/><circle cx="586" cy="2276.2" r="7.5"/><circle cx="586.1" cy="2269.4" r="7.5"/><circle cx="586.7" cy="2253.6" r="7.5"/><circle cx="586.9" cy="2275.9" r="7.5"/><circle cx="587.5" cy="2263.8" r="7.5"/><circle cx="587.8" cy="2252.9" r="7.5"/><circle cx="588.3" cy="2265.4" r="7.5"/><circle cx="588.7" cy="2256.1" r="7.5"/><circle cx="589.1" cy="2265" r="7.5"/><circle cx="589.9" cy="2270.1" r="7.5"/><circle cx="590.7" cy="2272" r="7.5"/><circle cx="591.4" cy="2270.5" r="7.5"/><circle cx="592.2" cy="2278.7" r="7.5"/><circle cx="593" cy="2275.5" r="7.5"/><circle cx="593.3" cy="2284.7" r="7.5"/><circle cx="593.8" cy="2282" r="7.5"/><circle cx="594.2" cy="2284.6" r="7.5"/><circle cx="594.2" cy="2303" r="7.5"/><circle cx="594.4" cy="2302.9" r="7.5"/><circle cx="594.6" cy="2271" r="7.5"/><circle cx="595.4" cy="2284.1" r="7.5"/><circle cx="596.1" cy="2283.9" r="7.5"/><circle cx="596.9" cy="2280.8" r="7.5"/><circle cx="597.7" cy="2273.1" r="7.5"/><circle cx="598.5" cy="2261" r="7.5"/><circle cx="599.3" cy="2241.9" r="7.5"/><circle cx="600.1" cy="2235.4" r="7.5"/><circle cx="600.8" cy="2238.8" r="7.5"/><circle cx="601.6" cy="2233.2" r="7.5"/><circle cx="602.4" cy="2244.7" r="7.5"/><circle cx="603.2" cy="2233.4" r="7.5"/><circle cx="604" cy="2257.1" r="7.5"/><circle cx="604.7" cy="2256.1" r="7.5"/><circle cx="605.5" cy="2259.5" r="7.5"/><circle cx="606.3" cy="2249" r="7.5"/><circle cx="607.1" cy="2255.2" r="7.5"/><circle cx="607.9" cy="2262.1" r="7.5"/><circle cx="608.7" cy="2245.3" r="7.5"/><circle cx="609.4" cy="2245.9" r="7.5"/><circle cx="610.2" cy="2221.4" r="7.5"/><circle cx="611" cy="2244.8" r="7.5"/><circle cx="611.8" cy="2235.4" r="7.5"/><circle cx="612.6" cy="2234.9" r="7.5"/><circle cx="613.4" cy="2245.9" r="7.5"/><circle cx="613.4" cy="2265.7" r="7.5"/><circle cx="614.1" cy="2228.6" r="7.5"/><circle cx="614.4" cy="2266.1" r="7.5"/><circle cx="614.9" cy="2227.9" r="7.5"/><circle cx="615.7" cy="2230.9" r="7.5"/><circle cx="616.5" cy="2242.1" r="7.5"/><circle cx="617.3" cy="2226.7" r="7.5"/><circle cx="618" cy="2226" r="7.5"/><circle cx="618.8" cy="2237.7" r="7.5"/><circle cx="619.6" cy="2230" r="7.5"/><circle cx="620.4" cy="2217.9" r="7.5"/><circle cx="621.2" cy="2211.9" r="7.5"/><circle cx="622" cy="2212.8" r="7.5"/><circle cx="622.7" cy="2232.1" r="7.5"/><circle cx="623.5" cy="2219.3" r="7.5"/><circle cx="624.3" cy="2227.6" r="7.5"/><circle cx="624.5" cy="2245.7" r="7.5"/><circle cx="625.1" cy="2229" r="7.5"/><circle cx="625.9" cy="2224" r="7.5"/><circle cx="626.7" cy="2212.4" r="7.5"/><circle cx="627.4" cy="2218.5" r="7.5"/><circle cx="628.2" cy="2225.9" r="7.5"/><circle cx="628.4" cy="2175.8" r="7.5"/><circle cx="629" cy="2212.5" r="7.5"/><circle cx="629.8" cy="2196.5" r="7.5"/><circle cx="630.6" cy="2224.9" r="7.5"/><circle cx="631.3" cy="2230.6" r="7.5"/><circle cx="632.1" cy="2235" r="7.5"/><circle cx="632.9" cy="2227.4" r="7.5"/><circle cx="633.7" cy="2231.3" r="7.5"/><circle cx="634.5" cy="2215.6" r="7.5"/><circle cx="634.5" cy="2222.3" r="7.5"/><circle cx="635.3" cy="2187.8" r="7.5"/><circle cx="635.4" cy="2223.2" r="7.5"/><circle cx="635.6" cy="2243" r="7.5"/><circle cx="636" cy="2207.8" r="7.5"/><circle cx="636.3" cy="2243.3" r="7.5"/><circle cx="636.8" cy="2211.6" r="7.5"/><circle cx="637.2" cy="2160" r="7.5"/><circle cx="637.6" cy="2216.8" r="7.5"/><circle cx="638.4" cy="2193.7" r="7.5"/><circle cx="639.2" cy="2189.4" r="7.5"/><circle cx="640" cy="2201" r="7.5"/><circle cx="640.7" cy="2194.2" r="7.5"/><circle cx="641.5" cy="2193.3" r="7.5"/><circle cx="642.3" cy="2193.9" r="7.5"/><circle cx="643.1" cy="2215" r="7.5"/><circle cx="643.9" cy="2190.4" r="7.5"/><circle cx="644.7" cy="2192.8" r="7.5"/><circle cx="645.4" cy="2208.2" r="7.5"/><circle cx="646" cy="2182.8" r="7.5"/><circle cx="646.2" cy="2205.6" r="7.5"/><circle cx="647" cy="2206.6" r="7.5"/><circle cx="647.8" cy="2193.7" r="7.5"/><circle cx="648.6" cy="2181.3" r="7.5"/><circle cx="649.3" cy="2173.4" r="7.5"/><circle cx="649.5" cy="2209.1" r="7.5"/><circle cx="650.1" cy="2230.1" r="7.5"/><circle cx="650.1" cy="2175.5" r="7.5"/><circle cx="650.4" cy="2196.8" r="7.5"/><circle cx="650.9" cy="2193.6" r="7.5"/><circle cx="651.2" cy="2230.2" r="7.5"/><circle cx="651.7" cy="2193.5" r="7.5"/><circle cx="652.5" cy="2189.6" r="7.5"/><circle cx="653.3" cy="2187.4" r="7.5"/><circle cx="654" cy="2193.8" r="7.5"/><circle cx="654.8" cy="2191.3" r="7.5"/><circle cx="655.6" cy="2195.8" r="7.5"/><circle cx="656.4" cy="2199.7" r="7.5"/><circle cx="657.2" cy="2207.1" r="7.5"/><circle cx="658" cy="2210.8" r="7.5"/><circle cx="658.2" cy="2164.4" r="7.5"/><circle cx="658.7" cy="2211.3" r="7.5"/><circle cx="659.5" cy="2209.5" r="7.5"/><circle cx="660.3" cy="2198.2" r="7.5"/><circle cx="661.1" cy="2185.9" r="7.5"/><circle cx="661.9" cy="2179.3" r="7.5"/><circle cx="662.6" cy="2183.8" r="7.5"/><circle cx="663.4" cy="2187.8" r="7.5"/><circle cx="664.2" cy="2176.9" r="7.5"/><circle cx="665" cy="2197.1" r="7.5"/><circle cx="665.8" cy="2197.9" r="7.5"/><circle cx="666.6" cy="2200.3" r="7.5"/><circle cx="667" cy="2221.4" r="7.5"/><circle cx="667.3" cy="2171.6" r="7.5"/><circle cx="668.1" cy="2163.2" r="7.5"/><circle cx="668.9" cy="2170.2" r="7.5"/><circle cx="669.7" cy="2195" r="7.5"/><circle cx="670.5" cy="2200" r="7.5"/><circle cx="671.3" cy="2186.1" r="7.5"/><circle cx="672" cy="2174.1" r="7.5"/><circle cx="672.3" cy="2212.6" r="7.5"/><circle cx="672.8" cy="2165.5" r="7.5"/><circle cx="673.6" cy="2177.9" r="7.5"/><circle cx="674.4" cy="2164.7" r="7.5"/><circle cx="675.2" cy="2161.7" r="7.5"/><circle cx="676" cy="2166.5" r="7.5"/><circle cx="676.7" cy="2174.5" r="7.5"/><circle cx="677.5" cy="2176.7" r="7.5"/><circle cx="678.3" cy="2183" r="7.5"/><circle cx="679.1" cy="2168.9" r="7.5"/><circle cx="679.9" cy="2166.7" r="7.5"/><circle cx="680.6" cy="2177.8" r="7.5"/><circle cx="681.4" cy="2203" r="7.5"/><circle cx="682.2" cy="2202.6" r="7.5"/><circle cx="682.8" cy="2198.6" r="7.5"/><circle cx="683" cy="2202.9" r="7.5"/><circle cx="683.8" cy="2196.5" r="7.5"/><circle cx="684.6" cy="2179" r="7.5"/><circle cx="684.6" cy="2145.1" r="7.5"/><circle cx="685.3" cy="2167" r="7.5"/><circle cx="686.1" cy="2173.7" r="7.5"/><circle cx="686.9" cy="2172.7" r="7.5"/><circle cx="687.7" cy="2180.7" r="7.5"/><circle cx="688.5" cy="2182.5" r="7.5"/><circle cx="689.3" cy="2197" r="7.5"/><circle cx="689.8" cy="2161.8" r="7.5"/><circle cx="690" cy="2175.3" r="7.5"/><circle cx="690.8" cy="2170.2" r="7.5"/><circle cx="691.6" cy="2171.6" r="7.5"/><circle cx="692.4" cy="2169.5" r="7.5"/><circle cx="693.2" cy="2161.4" r="7.5"/><circle cx="693.9" cy="2163.9" r="7.5"/><circle cx="694.7" cy="2157.5" r="7.5"/><circle cx="695.5" cy="2157.3" r="7.5"/><circle cx="696.3" cy="2157.2" r="7.5"/><circle cx="696.8" cy="2209.1" r="7.5"/><circle cx="697.1" cy="2166.1" r="7.5"/><circle cx="697.9" cy="2170.7" r="7.5"/><circle cx="698.6" cy="2185.9" r="7.5"/><circle cx="699.4" cy="2197.8" r="7.5"/><circle cx="700.2" cy="2197.3" r="7.5"/><circle cx="701" cy="2193" r="7.5"/><circle cx="701.8" cy="2190.8" r="7.5"/><circle cx="702.6" cy="2183.1" r="7.5"/><circle cx="703.3" cy="2188.9" r="7.5"/><circle cx="704.1" cy="2193.6" r="7.5"/><circle cx="704.9" cy="2192.3" r="7.5"/><circle cx="705.6" cy="2158.2" r="7.5"/><circle cx="705.6" cy="2219.6" r="7.5"/><circle cx="705.7" cy="2178.2" r="7.5"/><circle cx="706.5" cy="2182.7" r="7.5"/><circle cx="707.2" cy="2177.7" r="7.5"/><circle cx="708" cy="2179.8" r="7.5"/><circle cx="708.8" cy="2184.2" r="7.5"/><circle cx="709.6" cy="2168.4" r="7.5"/><circle cx="710.4" cy="2184" r="7.5"/><circle cx="711.2" cy="2191.2" r="7.5"/><circle cx="711.8" cy="2128.9" r="7.5"/><circle cx="711.9" cy="2180" r="7.5"/><circle cx="712.7" cy="2161.5" r="7.5"/><circle cx="713.5" cy="2164.8" r="7.5"/><circle cx="714.3" cy="2172.9" r="7.5"/><circle cx="714.4" cy="2207.4" r="7.5"/><circle cx="715.1" cy="2165.1" r="7.5"/><circle cx="715.9" cy="2158.7" r="7.5"/><circle cx="716.6" cy="2151.6" r="7.5"/><circle cx="717.4" cy="2161.5" r="7.5"/><circle cx="718.2" cy="2175.2" r="7.5"/><circle cx="719" cy="2168.8" r="7.5"/><circle cx="719.6" cy="2195.1" r="7.5"/><circle cx="719.8" cy="2165.5" r="7.5"/><circle cx="720.6" cy="2177.8" r="7.5"/><circle cx="721.3" cy="2186.6" r="7.5"/><circle cx="722.1" cy="2182.7" r="7.5"/><circle cx="722.9" cy="2162.5" r="7.5"/><circle cx="723.7" cy="2171.9" r="7.5"/><circle cx="724.5" cy="2166.9" r="7.5"/><circle cx="725.2" cy="2173.6" r="7.5"/><circle cx="726" cy="2185.1" r="7.5"/><circle cx="726.8" cy="2188.2" r="7.5"/><circle cx="727.6" cy="2184.4" r="7.5"/><circle cx="728.4" cy="2190.5" r="7.5"/><circle cx="729.2" cy="2177" r="7.5"/><circle cx="729.9" cy="2175.2" r="7.5"/><circle cx="730.2" cy="2175.8" r="7.5"/><circle cx="730.7" cy="2180.2" r="7.5"/><circle cx="731.5" cy="2175" r="7.5"/><circle cx="732.3" cy="2168.3" r="7.5"/><circle cx="732.8" cy="2194.2" r="7.5"/><circle cx="733.1" cy="2156.8" r="7.5"/><circle cx="733.9" cy="2144.6" r="7.5"/><circle cx="734.6" cy="2154.2" r="7.5"/><circle cx="735.4" cy="2152.7" r="7.5"/><circle cx="736.2" cy="2153.2" r="7.5"/><circle cx="737" cy="2170.2" r="7.5"/><circle cx="737.8" cy="2153.5" r="7.5"/><circle cx="738.5" cy="2162.3" r="7.5"/><circle cx="739.3" cy="2160.9" r="7.5"/><circle cx="740.1" cy="2167.7" r="7.5"/><circle cx="740.7" cy="2131.9" r="7.5"/><circle cx="740.9" cy="2167.2" r="7.5"/><circle cx="741.7" cy="2152.8" r="7.5"/><circle cx="742.5" cy="2152.9" r="7.5"/><circle cx="742.5" cy="2140.7" r="7.5"/><circle cx="743.2" cy="2140" r="7.5"/><circle cx="744" cy="2148.7" r="7.5"/><circle cx="744.8" cy="2153.3" r="7.5"/><circle cx="745.6" cy="2160.7" r="7.5"/><circle cx="746.4" cy="2171.7" r="7.5"/><circle cx="747.2" cy="2171" r="7.5"/><circle cx="747.9" cy="2165" r="7.5"/><circle cx="748.7" cy="2171.6" r="7.5"/><circle cx="749.5" cy="2145.9" r="7.5"/><circle cx="750.3" cy="2143.1" r="7.5"/><circle cx="750.4" cy="2190.7" r="7.5"/><circle cx="751.1" cy="2149.5" r="7.5"/><circle cx="751.8" cy="2137" r="7.5"/><circle cx="752.6" cy="2159.5" r="7.5"/><circle cx="753.4" cy="2153.9" r="7.5"/><circle cx="754.2" cy="2156" r="7.5"/><circle cx="755" cy="2151.6" r="7.5"/><circle cx="755.8" cy="2161.5" r="7.5"/><circle cx="756.5" cy="2153.4" r="7.5"/><circle cx="757.3" cy="2150.5" r="7.5"/><circle cx="758.1" cy="2159.9" r="7.5"/><circle cx="758.9" cy="2160.9" r="7.5"/><circle cx="759.7" cy="2164.5" r="7.5"/><circle cx="760.5" cy="2159.5" r="7.5"/><circle cx="761.2" cy="2161.3" r="7.5"/><circle cx="762" cy="2140.7" r="7.5"/><circle cx="762.6" cy="2174.9" r="7.5"/><circle cx="762.8" cy="2159" r="7.5"/><circle cx="763.5" cy="2137.2" r="7.5"/><circle cx="763.6" cy="2137.1" r="7.5"/><circle cx="764.4" cy="2138.9" r="7.5"/><circle cx="765.2" cy="2140" r="7.5"/><circle cx="765.9" cy="2156.7" r="7.5"/><circle cx="766.7" cy="2141.2" r="7.5"/><circle cx="767.5" cy="2134.2" r="7.5"/><circle cx="768.3" cy="2137.2" r="7.5"/><circle cx="769.1" cy="2153.3" r="7.5"/><circle cx="769.8" cy="2128.6" r="7.5"/><circle cx="770.6" cy="2140.1" r="7.5"/><circle cx="771.4" cy="2155.6" r="7.5"/><circle cx="771.7" cy="2164.2" r="7.5"/><circle cx="772.3" cy="2162.8" r="7.5"/><circle cx="773" cy="2151.1" r="7.5"/><circle cx="773.6" cy="2166.4" r="7.5"/><circle cx="774.3" cy="2164.3" r="7.5"/><circle cx="774.9" cy="2166.5" r="7.5"/><circle cx="775.6" cy="2167" r="7.5"/><circle cx="775.8" cy="2157.4" r="7.5"/><circle cx="776.2" cy="2166.9" r="7.5"/><circle cx="776.9" cy="2166.8" r="7.5"/><circle cx="777.5" cy="2166.7" r="7.5"/><circle cx="778.2" cy="2155.5" r="7.5"/><circle cx="778.8" cy="2158.6" r="7.5"/><circle cx="779.5" cy="2159.6" r="7.5"/><circle cx="780.1" cy="2158.4" r="7.5"/><circle cx="780.8" cy="2152" r="7.5"/><circle cx="781.5" cy="2144" r="7.5"/><circle cx="782.1" cy="2143.3" r="7.5"/><circle cx="782.8" cy="2144" r="7.5"/><circle cx="783.4" cy="2141.1" r="7.5"/><circle cx="784.1" cy="2147.7" r="7.5"/><circle cx="784.7" cy="2146" r="7.5"/><circle cx="785.4" cy="2134.6" r="7.5"/><circle cx="786" cy="2141.4" r="7.5"/><circle cx="786.7" cy="2148.3" r="7.5"/><circle cx="787.3" cy="2158.4" r="7.5"/><circle cx="788" cy="2155.6" r="7.5"/><circle cx="788.6" cy="2149.5" r="7.5"/><circle cx="789.3" cy="2151.7" r="7.5"/><circle cx="789.8" cy="2112.6" r="7.5"/><circle cx="789.9" cy="2152.7" r="7.5"/><circle cx="790.6" cy="2143.3" r="7.5"/><circle cx="791.2" cy="2143.6" r="7.5"/><circle cx="791.9" cy="2139.2" r="7.5"/><circle cx="792.5" cy="2142.9" r="7.5"/><circle cx="793.2" cy="2134.6" r="7.5"/><circle cx="793.8" cy="2130.5" r="7.5"/><circle cx="794.5" cy="2134.4" r="7.5"/><circle cx="795.1" cy="2140.5" r="7.5"/><circle cx="795.8" cy="2124.1" r="7.5"/><circle cx="796.4" cy="2135.5" r="7.5"/><circle cx="797.1" cy="2143.8" r="7.5"/><circle cx="797.8" cy="2160.9" r="7.5"/><circle cx="798.4" cy="2152.9" r="7.5"/><circle cx="799.1" cy="2150.7" r="7.5"/><circle cx="799.7" cy="2149.9" r="7.5"/><circle cx="800.4" cy="2159.1" r="7.5"/><circle cx="800.4" cy="2164.9" r="7.5"/><circle cx="801" cy="2155.9" r="7.5"/><circle cx="801.7" cy="2158.8" r="7.5"/><circle cx="802.3" cy="2162.6" r="7.5"/><circle cx="803" cy="2160.4" r="7.5"/><circle cx="803.6" cy="2154.8" r="7.5"/><circle cx="804.3" cy="2153.5" r="7.5"/><circle cx="804.9" cy="2154.8" r="7.5"/><circle cx="805.6" cy="2147.4" r="7.5"/><circle cx="806.2" cy="2144.8" r="7.5"/><circle cx="806.9" cy="2146.9" r="7.5"/><circle cx="807.5" cy="2142.1" r="7.5"/><circle cx="808.2" cy="2140.1" r="7.5"/><circle cx="808.8" cy="2134.3" r="7.5"/><circle cx="809.5" cy="2130.2" r="7.5"/><circle cx="810.1" cy="2127.5" r="7.5"/><circle cx="810.8" cy="2134.4" r="7.5"/><circle cx="811.4" cy="2126.9" r="7.5"/><circle cx="812.1" cy="2123.1" r="7.5"/><circle cx="812.8" cy="2130.4" r="7.5"/><circle cx="813.4" cy="2124.1" r="7.5"/><circle cx="814.1" cy="2126.9" r="7.5"/><circle cx="814.7" cy="2136.5" r="7.5"/><circle cx="815.4" cy="2137.7" r="7.5"/><circle cx="816" cy="2147" r="7.5"/><circle cx="816.7" cy="2138.1" r="7.5"/><circle cx="817.3" cy="2147.2" r="7.5"/><circle cx="818" cy="2135.9" r="7.5"/><circle cx="818.6" cy="2142.6" r="7.5"/><circle cx="819.3" cy="2143.1" r="7.5"/><circle cx="819.3" cy="2166.7" r="7.5"/><circle cx="819.9" cy="2133.8" r="7.5"/><circle cx="820.6" cy="2132.7" r="7.5"/><circle cx="821.2" cy="2145.2" r="7.5"/><circle cx="821.9" cy="2145" r="7.5"/><circle cx="822.3" cy="2117.9" r="7.5"/><circle cx="822.5" cy="2156.3" r="7.5"/><circle cx="823.2" cy="2148.4" r="7.5"/><circle cx="823.8" cy="2153.3" r="7.5"/><circle cx="824.5" cy="2150.8" r="7.5"/><circle cx="825.1" cy="2149.1" r="7.5"/><circle cx="825.8" cy="2156.8" r="7.5"/><circle cx="826.4" cy="2150.6" r="7.5"/><circle cx="827.1" cy="2136" r="7.5"/><circle cx="827.7" cy="2142.1" r="7.5"/><circle cx="828.4" cy="2144.8" r="7.5"/><circle cx="829.1" cy="2140.5" r="7.5"/><circle cx="829.7" cy="2131.5" r="7.5"/><circle cx="830.4" cy="2138" r="7.5"/><circle cx="831" cy="2136.1" r="7.5"/><circle cx="831.7" cy="2133.4" r="7.5"/><circle cx="832.3" cy="2126.7" r="7.5"/><circle cx="833" cy="2133.5" r="7.5"/><circle cx="833.6" cy="2117.6" r="7.5"/><circle cx="834.3" cy="2109.6" r="7.5"/><circle cx="834.9" cy="2123.1" r="7.5"/><circle cx="835.6" cy="2130.1" r="7.5"/><circle cx="836.2" cy="2128.2" r="7.5"/><circle cx="836.9" cy="2133" r="7.5"/><circle cx="837.5" cy="2136" r="7.5"/><circle cx="838.2" cy="2135" r="7.5"/><circle cx="838.8" cy="2138.8" r="7.5"/><circle cx="839.5" cy="2141" r="7.5"/><circle cx="840.1" cy="2137.5" r="7.5"/><circle cx="840.8" cy="2138.4" r="7.5"/><circle cx="841.4" cy="2134.4" r="7.5"/><circle cx="842.1" cy="2126.8" r="7.5"/><circle cx="842.7" cy="2120.3" r="7.5"/><circle cx="843.4" cy="2121.3" r="7.5"/><circle cx="844" cy="2155.3" r="7.5"/><circle cx="844" cy="2110" r="7.5"/><circle cx="844.2" cy="2155.6" r="7.5"/><circle cx="844.7" cy="2116" r="7.5"/><circle cx="845.4" cy="2112.9" r="7.5"/><circle cx="846" cy="2105.3" r="7.5"/><circle cx="846.7" cy="2108.4" r="7.5"/><circle cx="847.3" cy="2107.1" r="7.5"/><circle cx="848" cy="2113.8" r="7.5"/><circle cx="848.6" cy="2119.7" r="7.5"/><circle cx="849.3" cy="2119.6" r="7.5"/><circle cx="849.9" cy="2117.8" r="7.5"/><circle cx="850.6" cy="2117.1" r="7.5"/><circle cx="851.2" cy="2114.6" r="7.5"/><circle cx="851.9" cy="2114.6" r="7.5"/><circle cx="852.5" cy="2117" r="7.5"/><circle cx="853.2" cy="2121.9" r="7.5"/><circle cx="853.8" cy="2122.8" r="7.5"/><circle cx="854.5" cy="2122.6" r="7.5"/><circle cx="855.1" cy="2122.9" r="7.5"/><circle cx="855.8" cy="2129.5" r="7.5"/><circle cx="856.4" cy="2121" r="7.5"/><circle cx="856.5" cy="2103.9" r="7.5"/><circle cx="857.1" cy="2115.1" r="7.5"/><circle cx="857.7" cy="2115.5" r="7.5"/><circle cx="858.4" cy="2120" r="7.5"/><circle cx="859" cy="2114.3" r="7.5"/><circle cx="859.7" cy="2117.6" r="7.5"/><circle cx="860.3" cy="2120.3" r="7.5"/><circle cx="861" cy="2117.5" r="7.5"/><circle cx="861.7" cy="2121.9" r="7.5"/><circle cx="862.3" cy="2121.5" r="7.5"/><circle cx="863" cy="2124.8" r="7.5"/><circle cx="863.6" cy="2121" r="7.5"/><circle cx="864.3" cy="2119.1" r="7.5"/><circle cx="864.9" cy="2115.8" r="7.5"/><circle cx="865.6" cy="2114.8" r="7.5"/><circle cx="866.2" cy="2114.6" r="7.5"/><circle cx="866.9" cy="2114.2" r="7.5"/><circle cx="867.5" cy="2111.4" r="7.5"/><circle cx="868.2" cy="2119.4" r="7.5"/><circle cx="868.8" cy="2127.1" r="7.5"/><circle cx="869.5" cy="2125.9" r="7.5"/><circle cx="869.8" cy="2150.3" r="7.5"/><circle cx="870.1" cy="2124.5" r="7.5"/><circle cx="870.8" cy="2125.7" r="7.5"/><circle cx="871.4" cy="2116.5" r="7.5"/><circle cx="872.1" cy="2115.1" r="7.5"/><circle cx="872.7" cy="2109.5" r="7.5"/><circle cx="873.4" cy="2111.7" r="7.5"/><circle cx="874" cy="2122" r="7.5"/><circle cx="874.7" cy="2130.2" r="7.5"/><circle cx="875.3" cy="2122.6" r="7.5"/><circle cx="876" cy="2122.5" r="7.5"/><circle cx="876.7" cy="2125.4" r="7.5"/><circle cx="877.3" cy="2117.5" r="7.5"/><circle cx="878" cy="2108.6" r="7.5"/><circle cx="878.6" cy="2109.3" r="7.5"/><circle cx="879.3" cy="2104.6" r="7.5"/><circle cx="879.9" cy="2110.1" r="7.5"/><circle cx="880.6" cy="2118.6" r="7.5"/><circle cx="881.2" cy="2130.3" r="7.5"/><circle cx="881.9" cy="2124" r="7.5"/><circle cx="882.5" cy="2134.5" r="7.5"/><circle cx="883.2" cy="2136.4" r="7.5"/><circle cx="883.8" cy="2135.5" r="7.5"/><circle cx="884.5" cy="2132" r="7.5"/><circle cx="885.1" cy="2143.7" r="7.5"/><circle cx="885.8" cy="2143.8" r="7.5"/><circle cx="886.4" cy="2147.4" r="7.5"/><circle cx="886.7" cy="2116.5" r="7.5"/><circle cx="887.1" cy="2137.4" r="7.5"/><circle cx="887.7" cy="2139.1" r="7.5"/><circle cx="888.4" cy="2143.5" r="7.5"/><circle cx="889" cy="2133.4" r="7.5"/><circle cx="889.7" cy="2134.6" r="7.5"/><circle cx="890.3" cy="2132.2" r="7.5"/><circle cx="891" cy="2133.1" r="7.5"/><circle cx="891.6" cy="2136.9" r="7.5"/><circle cx="892.3" cy="2134.9" r="7.5"/><circle cx="893" cy="2142.1" r="7.5"/><circle cx="893.6" cy="2151.4" r="7.5"/><circle cx="894.3" cy="2153.8" r="7.5"/><circle cx="894.7" cy="2154.3" r="7.5"/><circle cx="894.9" cy="2148.2" r="7.5"/><circle cx="895.6" cy="2149.5" r="7.5"/><circle cx="895.7" cy="2170.2" r="7.5"/><circle cx="896.2" cy="2142" r="7.5"/><circle cx="896.9" cy="2137.9" r="7.5"/><circle cx="897.5" cy="2137.6" r="7.5"/><circle cx="898.2" cy="2131.8" r="7.5"/><circle cx="898.8" cy="2131.5" r="7.5"/><circle cx="899.5" cy="2131.6" r="7.5"/><circle cx="900.1" cy="2135.1" r="7.5"/><circle cx="900.8" cy="2136.9" r="7.5"/><circle cx="901.4" cy="2138.1" r="7.5"/><circle cx="902.1" cy="2132" r="7.5"/><circle cx="902.7" cy="2123.8" r="7.5"/><circle cx="903.4" cy="2120.1" r="7.5"/><circle cx="903.6" cy="2111.6" r="7.5"/><circle cx="904" cy="2122.3" r="7.5"/><circle cx="904.7" cy="2126.4" r="7.5"/><circle cx="905.3" cy="2127.2" r="7.5"/><circle cx="906" cy="2133" r="7.5"/><circle cx="906.6" cy="2134.1" r="7.5"/><circle cx="907.3" cy="2137" r="7.5"/><circle cx="907.9" cy="2137.3" r="7.5"/><circle cx="908.6" cy="2152.7" r="7.5"/><circle cx="909.3" cy="2149.6" r="7.5"/><circle cx="909.9" cy="2142.7" r="7.5"/><circle cx="910.6" cy="2148.5" r="7.5"/><circle cx="911.2" cy="2134.6" r="7.5"/><circle cx="911.9" cy="2134.2" r="7.5"/><circle cx="912.5" cy="2138.5" r="7.5"/><circle cx="913.2" cy="2128.9" r="7.5"/><circle cx="913.8" cy="2136.8" r="7.5"/><circle cx="914.5" cy="2119.1" r="7.5"/><circle cx="915.1" cy="2127.3" r="7.5"/><circle cx="915.8" cy="2123.1" r="7.5"/><circle cx="916.4" cy="2116.6" r="7.5"/><circle cx="917.1" cy="2116.1" r="7.5"/><circle cx="917.7" cy="2119.4" r="7.5"/><circle cx="918.4" cy="2127.5" r="7.5"/><circle cx="919" cy="2130.3" r="7.5"/><circle cx="919.7" cy="2130.1" r="7.5"/><circle cx="920.3" cy="2125.1" r="7.5"/><circle cx="921" cy="2141.6" r="7.5"/><circle cx="921.6" cy="2136.7" r="7.5"/><circle cx="922.3" cy="2143.8" r="7.5"/><circle cx="922.9" cy="2146.3" r="7.5"/><circle cx="923.6" cy="2144.9" r="7.5"/><circle cx="924.3" cy="2147.2" r="7.5"/><circle cx="924.9" cy="2141.2" r="7.5"/><circle cx="925.6" cy="2150.6" r="7.5"/><circle cx="926.2" cy="2144.7" r="7.5"/><circle cx="926.9" cy="2149.4" r="7.5"/><circle cx="927.5" cy="2149.1" r="7.5"/><circle cx="928.2" cy="2147" r="7.5"/><circle cx="928.8" cy="2153.7" r="7.5"/><circle cx="929.5" cy="2147.5" r="7.5"/><circle cx="930.1" cy="2131.9" r="7.5"/><circle cx="930.8" cy="2136.8" r="7.5"/><circle cx="931.4" cy="2142.3" r="7.5"/><circle cx="932.1" cy="2131.6" r="7.5"/><circle cx="932.7" cy="2122.1" r="7.5"/><circle cx="933.4" cy="2137.6" r="7.5"/><circle cx="934" cy="2139.5" r="7.5"/><circle cx="934.7" cy="2143.8" r="7.5"/><circle cx="935.3" cy="2141.2" r="7.5"/><circle cx="935.4" cy="2113.6" r="7.5"/><circle cx="936" cy="2140.7" r="7.5"/><circle cx="936.6" cy="2146" r="7.5"/><circle cx="937.3" cy="2146.7" r="7.5"/><circle cx="937.9" cy="2137.7" r="7.5"/><circle cx="938.6" cy="2143" r="7.5"/><circle cx="939.2" cy="2140.2" r="7.5"/><circle cx="939.9" cy="2135.4" r="7.5"/><circle cx="940.6" cy="2124.9" r="7.5"/><circle cx="941.2" cy="2124.5" r="7.5"/><circle cx="941.9" cy="2125.3" r="7.5"/><circle cx="942.5" cy="2133.1" r="7.5"/><circle cx="943.2" cy="2132" r="7.5"/><circle cx="943.8" cy="2124.6" r="7.5"/><circle cx="944.5" cy="2124" r="7.5"/><circle cx="945.1" cy="2118.9" r="7.5"/><circle cx="945.8" cy="2125" r="7.5"/><circle cx="946.4" cy="2122.3" r="7.5"/><circle cx="947.1" cy="2126.4" r="7.5"/><circle cx="947.7" cy="2132.4" r="7.5"/><circle cx="948.4" cy="2136.7" r="7.5"/><circle cx="949" cy="2129.2" r="7.5"/><circle cx="949.7" cy="2126.9" r="7.5"/><circle cx="950.3" cy="2129.6" r="7.5"/><circle cx="951" cy="2132.2" r="7.5"/><circle cx="951.6" cy="2127.9" r="7.5"/><circle cx="952.3" cy="2132" r="7.5"/><circle cx="952.9" cy="2125.9" r="7.5"/><circle cx="953.6" cy="2125.8" r="7.5"/><circle cx="954.2" cy="2130.9" r="7.5"/><circle cx="954.9" cy="2132.8" r="7.5"/><circle cx="955.5" cy="2139.3" r="7.5"/><circle cx="956.2" cy="2144.7" r="7.5"/><circle cx="956.9" cy="2145.6" r="7.5"/><circle cx="957.5" cy="2146.2" r="7.5"/><circle cx="958.2" cy="2146" r="7.5"/><circle cx="958.8" cy="2148.1" r="7.5"/><circle cx="959.5" cy="2149.2" r="7.5"/><circle cx="960.1" cy="2144.3" r="7.5"/><circle cx="960.8" cy="2150.1" r="7.5"/><circle cx="961.4" cy="2153.6" r="7.5"/><circle cx="962.1" cy="2139.9" r="7.5"/><circle cx="962.7" cy="2138.1" r="7.5"/><circle cx="963.4" cy="2136.3" r="7.5"/><circle cx="964" cy="2129" r="7.5"/><circle cx="964.7" cy="2123.3" r="7.5"/><circle cx="965.3" cy="2116.9" r="7.5"/><circle cx="966" cy="2114.6" r="7.5"/><circle cx="966.6" cy="2113.8" r="7.5"/><circle cx="967.3" cy="2114.8" r="7.5"/><circle cx="967.9" cy="2119.2" r="7.5"/><circle cx="968.6" cy="2122.7" r="7.5"/><circle cx="969.2" cy="2146.3" r="7.5"/><circle cx="969.9" cy="2133.7" r="7.5"/><circle cx="970.5" cy="2134.3" r="7.5"/><circle cx="971.2" cy="2140" r="7.5"/><circle cx="971.9" cy="2131.6" r="7.5"/><circle cx="972.5" cy="2136.1" r="7.5"/><circle cx="973.2" cy="2133.1" r="7.5"/><circle cx="973.8" cy="2138.3" r="7.5"/><circle cx="974.5" cy="2144.3" r="7.5"/><circle cx="975.1" cy="2135" r="7.5"/><circle cx="975.8" cy="2133.7" r="7.5"/><circle cx="976.4" cy="2143.2" r="7.5"/><circle cx="977.1" cy="2136.8" r="7.5"/><circle cx="977.7" cy="2130.2" r="7.5"/><circle cx="978.4" cy="2132.4" r="7.5"/><circle cx="979" cy="2127.7" r="7.5"/><circle cx="979.7" cy="2120.2" r="7.5"/><circle cx="980.3" cy="2114.9" r="7.5"/><circle cx="981" cy="2114.1" r="7.5"/><circle cx="981.6" cy="2112.5" r="7.5"/><circle cx="982.3" cy="2108.5" r="7.5"/><circle cx="982.9" cy="2111.6" r="7.5"/><circle cx="983.6" cy="2117.3" r="7.5"/><circle cx="984.2" cy="2121.8" r="7.5"/><circle cx="984.9" cy="2107.9" r="7.5"/><circle cx="985.5" cy="2119.4" r="7.5"/><circle cx="986.2" cy="2121.7" r="7.5"/><circle cx="986.8" cy="2136" r="7.5"/><circle cx="987.5" cy="2135.5" r="7.5"/><circle cx="988.2" cy="2136.1" r="7.5"/><circle cx="988.8" cy="2135.9" r="7.5"/><circle cx="989.5" cy="2130" r="7.5"/><circle cx="990.1" cy="2120.6" r="7.5"/><circle cx="990.8" cy="2121.5" r="7.5"/><circle cx="991.1" cy="2159.3" r="7.5"/><circle cx="991.4" cy="2129.1" r="7.5"/><circle cx="992.1" cy="2133.2" r="7.5"/><circle cx="992.7" cy="2133" r="7.5"/><circle cx="993.4" cy="2137.9" r="7.5"/><circle cx="994" cy="2137.4" r="7.5"/><circle cx="994.7" cy="2133" r="7.5"/><circle cx="995.1" cy="2107.6" r="7.5"/><circle cx="995.3" cy="2131.6" r="7.5"/><circle cx="996" cy="2118.2" r="7.5"/><circle cx="996.6" cy="2132.4" r="7.5"/><circle cx="997.3" cy="2131.7" r="7.5"/><circle cx="997.9" cy="2124.9" r="7.5"/><circle cx="998.6" cy="2134.1" r="7.5"/><circle cx="999.2" cy="2145.6" r="7.5"/><circle cx="999.9" cy="2129" r="7.5"/><circle cx="1000.5" cy="2123.5" r="7.5"/><circle cx="1001.2" cy="2121.9" r="7.5"/><circle cx="1001.8" cy="2116.1" r="7.5"/><circle cx="1002.5" cy="2126.6" r="7.5"/><circle cx="1003.1" cy="2135.9" r="7.5"/><circle cx="1003.8" cy="2124.9" r="7.5"/><circle cx="1004.5" cy="2126" r="7.5"/><circle cx="1005.1" cy="2138.8" r="7.5"/><circle cx="1005.8" cy="2138.9" r="7.5"/><circle cx="1006.4" cy="2127.2" r="7.5"/><circle cx="1007.1" cy="2136.1" r="7.5"/><circle cx="1007.7" cy="2146.9" r="7.5"/><circle cx="1008.4" cy="2157.3" r="7.5"/><circle cx="1009" cy="2154" r="7.5"/><circle cx="1009.7" cy="2150.9" r="7.5"/><circle cx="1010.3" cy="2152.4" r="7.5"/><circle cx="1011" cy="2152.9" r="7.5"/><circle cx="1011.6" cy="2151.5" r="7.5"/><circle cx="1012.3" cy="2152.8" r="7.5"/><circle cx="1012.9" cy="2153.4" r="7.5"/><circle cx="1013.6" cy="2143.1" r="7.5"/><circle cx="1014.2" cy="2141.5" r="7.5"/><circle cx="1014.9" cy="2136.7" r="7.5"/><circle cx="1015.5" cy="2149.6" r="7.5"/><circle cx="1016.2" cy="2153.4" r="7.5"/><circle cx="1016.8" cy="2142.9" r="7.5"/><circle cx="1017.5" cy="2140.5" r="7.5"/><circle cx="1018.1" cy="2132.5" r="7.5"/><circle cx="1018.8" cy="2143.6" r="7.5"/><circle cx="1019.5" cy="2137.7" r="7.5"/><circle cx="1020.1" cy="2141.4" r="7.5"/><circle cx="1020.8" cy="2140.3" r="7.5"/><circle cx="1021.4" cy="2144.4" r="7.5"/><circle cx="1022.1" cy="2149.6" r="7.5"/><circle cx="1022.7" cy="2154.4" r="7.5"/><circle cx="1023.4" cy="2151.7" r="7.5"/><circle cx="1024" cy="2141.2" r="7.5"/><circle cx="1024.7" cy="2147.8" r="7.5"/><circle cx="1025.3" cy="2149.8" r="7.5"/><circle cx="1026" cy="2154.1" r="7.5"/><circle cx="1026.6" cy="2156.5" r="7.5"/><circle cx="1027.3" cy="2147.7" r="7.5"/><circle cx="1027.9" cy="2148.5" r="7.5"/><circle cx="1028.6" cy="2152.8" r="7.5"/><circle cx="1028.9" cy="2161.3" r="7.5"/><circle cx="1029.2" cy="2144.5" r="7.5"/><circle cx="1029.9" cy="2140.3" r="7.5"/><circle cx="1030.5" cy="2137" r="7.5"/><circle cx="1031.2" cy="2135.7" r="7.5"/><circle cx="1031.8" cy="2140" r="7.5"/><circle cx="1032.5" cy="2133.4" r="7.5"/><circle cx="1033.1" cy="2138.3" r="7.5"/><circle cx="1033.8" cy="2136.2" r="7.5"/><circle cx="1034.4" cy="2135" r="7.5"/><circle cx="1035.1" cy="2126.9" r="7.5"/><circle cx="1035.8" cy="2129.8" r="7.5"/><circle cx="1036.4" cy="2125.2" r="7.5"/><circle cx="1037.1" cy="2139.6" r="7.5"/><circle cx="1037.7" cy="2137.9" r="7.5"/><circle cx="1038.4" cy="2136" r="7.5"/><circle cx="1039" cy="2135.2" r="7.5"/><circle cx="1039.7" cy="2149.9" r="7.5"/><circle cx="1040.3" cy="2141.8" r="7.5"/><circle cx="1041" cy="2145" r="7.5"/><circle cx="1041.6" cy="2148.1" r="7.5"/><circle cx="1042.3" cy="2134.3" r="7.5"/><circle cx="1042.9" cy="2136.2" r="7.5"/><circle cx="1043.6" cy="2129.2" r="7.5"/><circle cx="1044.2" cy="2143" r="7.5"/><circle cx="1044.9" cy="2136.4" r="7.5"/><circle cx="1045.5" cy="2134.8" r="7.5"/><circle cx="1046.2" cy="2132.8" r="7.5"/><circle cx="1046.8" cy="2140.2" r="7.5"/><circle cx="1047.5" cy="2136.7" r="7.5"/><circle cx="1048.1" cy="2137.8" r="7.5"/><circle cx="1048.7" cy="2159.3" r="7.5"/><circle cx="1048.8" cy="2127.4" r="7.5"/><circle cx="1049.4" cy="2132.7" r="7.5"/><circle cx="1050.1" cy="2145" r="7.5"/><circle cx="1050.7" cy="2135.3" r="7.5"/><circle cx="1051.4" cy="2143.2" r="7.5"/><circle cx="1052.1" cy="2143.2" r="7.5"/><circle cx="1052.7" cy="2136" r="7.5"/><circle cx="1053.4" cy="2123.5" r="7.5"/><circle cx="1054" cy="2121.7" r="7.5"/><circle cx="1054.7" cy="2119.1" r="7.5"/><circle cx="1055.3" cy="2120.9" r="7.5"/><circle cx="1056" cy="2122.7" r="7.5"/><circle cx="1056.6" cy="2125.6" r="7.5"/><circle cx="1057.3" cy="2125.1" r="7.5"/><circle cx="1057.9" cy="2133.7" r="7.5"/><circle cx="1058.6" cy="2132.3" r="7.5"/><circle cx="1059.2" cy="2124.2" r="7.5"/><circle cx="1059.9" cy="2125.1" r="7.5"/><circle cx="1060.5" cy="2128.1" r="7.5"/><circle cx="1061.2" cy="2123.8" r="7.5"/><circle cx="1061.7" cy="2129.5" r="7.5"/><circle cx="1061.7" cy="2113.6" r="7.5"/><circle cx="1061.8" cy="2132.4" r="7.5"/><circle cx="1062.5" cy="2134.4" r="7.5"/><circle cx="1063.1" cy="2117.6" r="7.5"/><circle cx="1063.8" cy="2114.9" r="7.5"/><circle cx="1064.4" cy="2113.1" r="7.5"/><circle cx="1065.1" cy="2118.2" r="7.5"/><circle cx="1065.7" cy="2126.7" r="7.5"/><circle cx="1066.4" cy="2136.6" r="7.5"/><circle cx="1067" cy="2135.9" r="7.5"/><circle cx="1067.6" cy="2154.3" r="7.5"/><circle cx="1067.7" cy="2125.9" r="7.5"/><circle cx="1068.4" cy="2128" r="7.5"/><circle cx="1068.6" cy="2165.2" r="7.5"/><circle cx="1069" cy="2123" r="7.5"/>
</g>
<g font-family="'Liberation Sans', Arial, Helvetica, sans-serif" font-weight="bold" font-size="58" fill="#000">
<text x="45" y="103" font-size="70">A</text>
<text x="99" y="142.5" font-size="70">a</text>
<text x="1256.7" y="142.5" font-size="70">b</text>
<text x="102.6" y="1444.7" font-size="70">B</text>
<text x="150.7" y="1490" font-size="70">a</text>
<text x="1260" y="1490" font-size="70">b</text>
<text x="401.2" y="158.2" text-anchor="middle" font-weight="normal" font-style="italic" font-size="53">a</text>
<text x="592" y="158.2" text-anchor="middle" font-weight="normal" font-style="italic" font-size="53">b</text>
<text x="782.3" y="158.2" text-anchor="middle" font-weight="normal" font-style="italic" font-size="53">c</text>
<text x="973.4" y="158.2" text-anchor="middle" font-weight="normal" font-style="italic" font-size="53">d</text>
<text x="409" y="1555.5" text-anchor="middle" font-weight="normal" font-style="italic" font-size="53">a</text>
<text x="600" y="1555.5" text-anchor="middle" font-weight="normal" font-style="italic" font-size="53">b</text>
<text x="790.3" y="1555.5" text-anchor="middle" font-weight="normal" font-style="italic" font-size="53">c</text>
<text x="979.4" y="1555.5" text-anchor="middle" font-weight="normal" font-style="italic" font-size="53">d</text>
<text x="424" y="852.2" text-anchor="middle" font-weight="normal" font-style="italic" font-size="57.5">a</text>
<text x="483.3" y="1042" text-anchor="middle" font-weight="normal" font-style="italic" font-size="57.5">b</text>
<text x="848.3" y="632.5" text-anchor="middle" font-weight="normal" font-style="italic" font-size="57.5">c</text>
<text x="1078.2" y="636" text-anchor="middle" font-weight="normal" font-style="italic" font-size="57.5">d</text>
<text x="411.8" y="2245" text-anchor="middle" font-weight="normal" font-style="italic" font-size="57.5">a</text>
<text x="469.3" y="2433.5" text-anchor="middle" font-weight="normal" font-style="italic" font-size="57.5">b</text>
<text x="863.2" y="2087.5" text-anchor="middle" font-weight="normal" font-style="italic" font-size="57.5">c</text>
<text x="1064.2" y="2091" text-anchor="middle" font-weight="normal" font-style="italic" font-size="57.5">d</text>
<text x="311" y="204" text-anchor="end">5</text>
<text x="311" y="455" text-anchor="end">1</text>
<text x="311" y="1603" text-anchor="end">6</text>
<text x="311" y="1895.7" text-anchor="end">1</text>
<text x="1019.4" y="514.6">1 s</text>
<text x="1046.4" y="1928.4">1 s</text>
<text x="480.8" y="557" font-size="58.8">Endothelin-1</text>
<text x="470.8" y="1997" font-size="58.6">Angiotensin II</text>
<text font-size="58.5" transform="translate(233.1 468) rotate(-90)">[Ca<tspan font-size="39.5" dy="-17.2">2+</tspan><tspan dy="17.2">]</tspan><tspan font-size="39.5" dy="13.7">i</tspan><tspan dy="-13.7"> (F/F</tspan><tspan font-size="39.5" dy="13.7">0</tspan><tspan dy="-13.7">)</tspan></text>
<text font-size="57.4" transform="translate(233.1 1896.3) rotate(-90)">[Ca<tspan font-size="38.8" dy="-17.2">2+</tspan><tspan dy="17.2">]</tspan><tspan font-size="38.8" dy="13.7">i</tspan><tspan dy="-13.7"> (F/F</tspan><tspan font-size="38.8" dy="13.7">0</tspan><tspan dy="-13.7">)</tspan></text>
<text text-anchor="middle" font-size="58.7" transform="translate(234.3 861.5) rotate(-90)">CaT alternans ratio</text>
<text text-anchor="middle" font-size="58.8" transform="translate(231.7 2343.6) rotate(-90)">CaT alternans ratio</text>
<text text-anchor="middle" font-size="58.3" transform="translate(1345.3 687.4) rotate(-90)">CaT alternans ratio</text>
<text text-anchor="middle" font-size="58.6" transform="translate(1340.7 2062) rotate(-90)">CaT alternans ratio</text>
<text x="352.3" y="614" text-anchor="end">1.0</text>
<text x="350.6" y="2086.8" text-anchor="end">1.0</text>
<text x="1445" y="371.6" text-anchor="end">1.0</text>
<text x="1445" y="1748" text-anchor="end">1.0</text>
<text x="352.3" y="718.2" text-anchor="end">0.8</text>
<text x="350.6" y="2200.6" text-anchor="end">0.8</text>
<text x="1445" y="511.1" text-anchor="end">0.8</text>
<text x="1445" y="1890.9" text-anchor="end">0.8</text>
<text x="352.3" y="822.3" text-anchor="end">0.6</text>
<text x="350.6" y="2314.4" text-anchor="end">0.6</text>
<text x="1445" y="650.6" text-anchor="end">0.6</text>
<text x="1445" y="2033.8" text-anchor="end">0.6</text>
<text x="352.3" y="926.5" text-anchor="end">0.4</text>
<text x="350.6" y="2428.1" text-anchor="end">0.4</text>
<text x="1445" y="790.1" text-anchor="end">0.4</text>
<text x="1445" y="2176.7" text-anchor="end">0.4</text>
<text x="352.3" y="1030.6" text-anchor="end">0.2</text>
<text x="350.6" y="2541.9" text-anchor="end">0.2</text>
<text x="1445" y="929.6" text-anchor="end">0.2</text>
<text x="1445" y="2319.6" text-anchor="end">0.2</text>
<text x="352.3" y="1134.8" text-anchor="end">0.0</text>
<text x="350.6" y="2655.7" text-anchor="end">0.0</text>
<text x="1445" y="1069.1" text-anchor="end">0.0</text>
<text x="1445" y="2462.5" text-anchor="end">0.0</text>
<text x="378.3" y="1185.6" text-anchor="middle">0</text>
<text x="550" y="1185.6" text-anchor="middle">4</text>
<text x="721.5" y="1185.6" text-anchor="middle">8</text>
<text x="889.5" y="1185.6" text-anchor="middle">12</text>
<text x="1060.3" y="1185.6" text-anchor="middle">16</text>
<text x="366.9" y="2704.3" text-anchor="middle">0</text>
<text x="540.8" y="2704.3" text-anchor="middle">4</text>
<text x="714.7" y="2704.3" text-anchor="middle">8</text>
<text x="888.5" y="2704.3" text-anchor="middle">12</text>
<text x="1062.4" y="2704.3" text-anchor="middle">16</text>
<text x="741.3" y="1262.4" text-anchor="middle">Time (min)</text>
<text x="737.7" y="2778.8" text-anchor="middle">Time (min)</text>
<text text-anchor="end" font-size="59" transform="translate(1605.2 1099) rotate(-45)">Control</text>
<text text-anchor="end" font-size="59" transform="translate(1775.3 1099) rotate(-45)">ET-1  (acute)</text>
<text text-anchor="end" font-size="59" transform="translate(1943.7 1103) rotate(-45)">ET-1 (10 min)</text>
<text text-anchor="end" font-size="59" transform="translate(2102 1108.3) rotate(-45)">Wash</text>
<text text-anchor="end" font-size="59" transform="translate(1605 2511.6) rotate(-45)">Control</text>
<text text-anchor="end" font-size="59" transform="translate(1770.2 2502) rotate(-45)">Ang II  (acute)</text>
<text text-anchor="end" font-size="59" transform="translate(1926.9 2490.5) rotate(-45)">Ang II  (10 min)</text>
<text text-anchor="end" font-size="59" transform="translate(2089.6 2506) rotate(-45)">Wash</text>
<text x="1850" y="168.4" text-anchor="middle" font-weight="normal" font-size="52">P=0.0021</text>
<text x="1931.6" y="237.5" text-anchor="middle" font-weight="normal" font-size="52">&lt;0.0001</text>
<text x="1772.8" y="300.7" text-anchor="middle" font-weight="normal" font-size="52">0.0097</text>
<text x="2022.1" y="320.4" text-anchor="middle" font-weight="normal" font-size="52">0.2916</text>
<text x="1847.8" y="384.2" text-anchor="middle" font-weight="normal" font-size="52">0.0005</text>
<text x="1687.3" y="445.6" text-anchor="middle" font-weight="normal" font-size="52">0.0020</text>
<text x="1873" y="1557.4" text-anchor="middle" font-weight="normal" font-size="52">P=0.0442</text>
<text x="1931.5" y="1620" text-anchor="middle" font-weight="normal" font-size="52">0.0615</text>
<text x="1750.2" y="1680.2" text-anchor="middle" font-weight="normal" font-size="52">0.0129</text>
<text x="2012.8" y="1710.6" text-anchor="middle" font-weight="normal" font-size="52">0.5197</text>
<text x="1845.9" y="1763.9" text-anchor="middle" font-weight="normal" font-size="52">0.0016</text>
<text x="1673.7" y="1825.3" text-anchor="middle" font-weight="normal" font-size="52">0.0021</text>
</g>
</svg>
</body></html>
